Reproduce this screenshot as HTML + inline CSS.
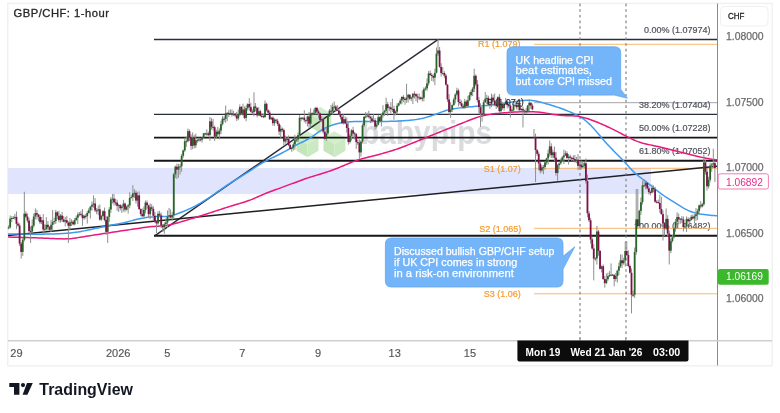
<!DOCTYPE html>
<html><head><meta charset="utf-8">
<style>
html,body{margin:0;padding:0;background:#fff;}
body{width:780px;height:413px;overflow:hidden;position:relative;font-family:"Liberation Sans",Arial,sans-serif;}
svg{position:absolute;left:0;top:0;will-change:transform;}
</style></head><body>
<svg width="780" height="413" viewBox="0 0 780 413" font-family="Liberation Sans, Arial, sans-serif">
<!-- frame -->
<rect x="7.75" y="3.4" width="764.5" height="362.4" fill="#fff" stroke="#f1f1f1" stroke-width="1.5"/>
<!-- blue zone -->
<rect x="8" y="168" width="643" height="26" fill="#e0e5fd"/>
<!-- watermark -->
<g><polygon points="320.3,107.1 331.3,113.6 320.3,120.1 309.3,113.6" fill="#d3eecb"/><polygon points="309.3,113.6 320.3,120.1 320.3,133.1 309.3,126.6" fill="#c4e6ba"/><polygon points="320.3,120.1 331.3,113.6 331.3,126.6 320.3,133.1" fill="#cbe9c2"/><polygon points="307.5,131.3 318.5,137.8 307.5,144.3 296.5,137.8" fill="#d3eecb"/><polygon points="296.5,137.8 307.5,144.3 307.5,157.3 296.5,150.8" fill="#c4e6ba"/><polygon points="307.5,144.3 318.5,137.8 318.5,150.8 307.5,157.3" fill="#cbe9c2"/><polygon points="334.5,131.3 345.5,137.8 334.5,144.3 323.5,137.8" fill="#d3eecb"/><polygon points="323.5,137.8 334.5,144.3 334.5,157.3 323.5,150.8" fill="#c4e6ba"/><polygon points="334.5,144.3 345.5,137.8 345.5,150.8 334.5,157.3" fill="#cbe9c2"/></g>
<text x="361" y="143.5" font-size="34" font-weight="bold" fill="#dadbdf" textLength="131" lengthAdjust="spacingAndGlyphs">babypips</text>
<!-- pivot lines -->
<line x1="534" y1="102.7" x2="717" y2="102.7" stroke="#8a8d96" stroke-width="0.8"/>
<g font-size="9" fill="#f39c30" stroke="#f39c30" stroke-width="0.2">
<text x="478" y="46.6">R1 (1.079)</text>
<text x="483.7" y="171.8">S1 (1.07)</text>
<text x="479.2" y="231.6">S2 (1.065)</text>
<text x="483.7" y="297.2">S3 (1.06)</text>
</g>
<!-- fib -->
<g stroke="#2a2e39" stroke-width="1.4">
<line x1="154" y1="39.45" x2="717" y2="39.45"/>
<line x1="154" y1="114.3" x2="717" y2="114.3" stroke-width="1.2"/>
</g>
<g stroke="#161616" stroke-width="1.9">
<line x1="154" y1="137.6" x2="717" y2="137.6"/>
<line x1="154" y1="160.7" x2="717" y2="160.7"/>
<line x1="154" y1="235.7" x2="717" y2="235.7"/>
</g>
<g font-size="9" fill="#50535c" stroke="#50535c" stroke-width="0.2" text-anchor="end">
<text x="710.5" y="32.8">0.00% (1.07974)</text>
<text x="710.5" y="107.9">38.20% (1.07404)</text>
<text x="710.5" y="131.4">50.00% (1.07228)</text>
<text x="710.5" y="154.3">61.80% (1.07052)</text>
<text x="710.5" y="229.4">100.00% (1.06482)</text>
</g>
<g stroke="#f8b870" stroke-width="1">
<line x1="534" y1="44.3" x2="717" y2="44.3"/>
<line x1="534" y1="168.3" x2="717" y2="168.3"/>
<line x1="534" y1="228.3" x2="717" y2="228.3"/>
<line x1="534" y1="293.8" x2="717" y2="293.8"/>
</g>
<!-- trend lines -->
<line x1="155" y1="235.6" x2="438.2" y2="39.45" stroke="#262a35" stroke-width="1.4"/>
<line x1="8" y1="235.4" x2="717" y2="166.3" stroke="#1e1e24" stroke-width="1.5"/>
<!-- dotted verticals -->
<g stroke="#777" stroke-width="1.1" stroke-dasharray="2.6,3.05">
<line x1="580" y1="3.6" x2="580" y2="340"/>
<line x1="626" y1="3.6" x2="626" y2="340"/>
</g>
<!-- MAs -->
<polyline points="8.0,234.03 10.0,234.03 12.0,234.04 14.0,234.05 16.0,234.07 18.0,234.09 20.0,234.11 22.0,234.12 24.0,234.14 26.0,234.15 28.0,234.17 30.0,234.18 32.0,234.19 34.0,234.19 36.0,234.20 38.0,234.19 40.0,234.18 42.0,234.17 44.0,234.15 46.0,234.12 48.0,234.08 50.0,234.03 52.0,233.98 54.0,233.92 56.0,233.85 58.0,233.77 60.0,233.69 62.0,233.60 64.0,233.49 66.0,233.37 68.0,233.22 70.0,233.05 72.0,232.84 74.0,232.59 76.0,232.30 78.0,231.99 80.0,231.64 82.0,231.27 84.0,230.88 86.0,230.48 88.0,230.07 90.0,229.65 92.0,229.22 94.0,228.79 96.0,228.36 98.0,227.93 100.0,227.49 102.0,227.07 104.0,226.65 106.0,226.23 108.0,225.84 110.0,225.45 112.0,225.07 114.0,224.70 116.0,224.34 118.0,223.96 120.0,223.57 122.0,223.15 124.0,222.70 126.0,222.21 128.0,221.68 130.0,221.14 132.0,220.60 134.0,220.06 136.0,219.56 138.0,219.09 140.0,218.66 142.0,218.27 144.0,217.92 146.0,217.61 148.0,217.33 150.0,217.10 152.0,216.90 154.0,216.74 156.0,216.62 158.0,216.57 160.0,216.57 162.0,216.56 164.0,216.52 166.0,216.40 168.0,216.21 170.0,215.91 172.0,215.48 174.0,214.92 176.0,214.27 178.0,213.56 180.0,212.80 182.0,212.01 184.0,211.20 186.0,210.35 188.0,209.47 190.0,208.56 192.0,207.62 194.0,206.63 196.0,205.60 198.0,204.52 200.0,203.39 202.0,202.21 204.0,200.98 206.0,199.71 208.0,198.39 210.0,197.04 212.0,195.66 214.0,194.26 216.0,192.85 218.0,191.44 220.0,190.03 222.0,188.63 224.0,187.26 226.0,185.90 228.0,184.57 230.0,183.27 232.0,182.00 234.0,180.74 236.0,179.51 238.0,178.29 240.0,177.07 242.0,175.86 244.0,174.65 246.0,173.43 248.0,172.18 250.0,170.89 252.0,169.57 254.0,168.24 256.0,166.92 258.0,165.62 260.0,164.37 262.0,163.16 264.0,162.03 266.0,160.96 268.0,159.93 270.0,158.93 272.0,157.94 274.0,156.96 276.0,155.98 278.0,154.99 280.0,153.99 282.0,152.97 284.0,151.93 286.0,150.86 288.0,149.76 290.0,148.65 292.0,147.52 294.0,146.38 296.0,145.27 298.0,144.21 300.0,143.20 302.0,142.23 304.0,141.27 306.0,140.27 308.0,139.21 310.0,138.05 312.0,136.78 314.0,135.38 316.0,133.92 318.0,132.44 320.0,131.03 322.0,129.73 324.0,128.57 326.0,127.55 328.0,126.66 330.0,125.89 332.0,125.21 334.0,124.59 336.0,124.02 338.0,123.50 340.0,123.05 342.0,122.66 344.0,122.35 346.0,122.10 348.0,121.91 350.0,121.77 352.0,121.67 354.0,121.60 356.0,121.54 358.0,121.51 360.0,121.48 362.0,121.47 364.0,121.46 366.0,121.46 368.0,121.47 370.0,121.48 372.0,121.49 374.0,121.50 376.0,121.50 378.0,121.50 380.0,121.49 382.0,121.47 384.0,121.45 386.0,121.43 388.0,121.40 390.0,121.36 392.0,121.31 394.0,121.24 396.0,121.17 398.0,121.08 400.0,120.98 402.0,120.87 404.0,120.74 406.0,120.61 408.0,120.45 410.0,120.28 412.0,120.08 414.0,119.85 416.0,119.57 418.0,119.24 420.0,118.86 422.0,118.43 424.0,117.94 426.0,117.40 428.0,116.82 430.0,116.20 432.0,115.56 434.0,114.90 436.0,114.19 438.0,113.43 440.0,112.65 442.0,111.89 444.0,111.17 446.0,110.51 448.0,109.90 450.0,109.39 452.0,108.98 454.0,108.66 456.0,108.38 458.0,108.12 460.0,107.88 462.0,107.65 464.0,107.43 466.0,107.22 468.0,107.02 470.0,106.84 472.0,106.66 474.0,106.49 476.0,106.33 478.0,106.18 480.0,106.03 482.0,105.88 484.0,105.72 486.0,105.56 488.0,105.38 490.0,105.19 492.0,104.98 494.0,104.75 496.0,104.51 498.0,104.24 500.0,103.96 502.0,103.67 504.0,103.36 506.0,103.04 508.0,102.72 510.0,102.39 512.0,102.06 514.0,101.74 516.0,101.43 518.0,101.12 520.0,100.84 522.0,100.58 524.0,100.38 526.0,100.25 528.0,100.21 530.0,100.27 532.0,100.44 534.0,100.72 536.0,101.09 538.0,101.53 540.0,102.02 542.0,102.55 544.0,103.10 546.0,103.66 548.0,104.23 550.0,104.81 552.0,105.42 554.0,106.04 556.0,106.69 558.0,107.36 560.0,108.06 562.0,108.78 564.0,109.52 566.0,110.29 568.0,111.09 570.0,111.90 572.0,112.76 574.0,113.65 576.0,114.60 578.0,115.62 580.0,116.75 582.0,118.01 584.0,119.41 586.0,120.97 588.0,122.70 590.0,124.60 592.0,126.66 594.0,128.85 596.0,131.13 598.0,133.45 600.0,135.80 602.0,138.14 604.0,140.45 606.0,142.70 608.0,144.90 610.0,147.05 612.0,149.14 614.0,151.20 616.0,153.22 618.0,155.23 620.0,157.26 622.0,159.32 624.0,161.43 626.0,163.61 628.0,165.82 630.0,168.03 632.0,170.14 634.0,172.10 636.0,173.93 638.0,175.63 640.0,177.22 642.0,178.73 644.0,180.21 646.0,181.72 648.0,183.29 650.0,184.90 652.0,186.53 654.0,188.17 656.0,189.79 658.0,191.38 660.0,192.91 662.0,194.36 664.0,195.75 666.0,197.08 668.0,198.38 670.0,199.64 672.0,200.89 674.0,202.14 676.0,203.41 678.0,204.68 680.0,205.93 682.0,207.14 684.0,208.29 686.0,209.36 688.0,210.33 690.0,211.20 692.0,211.95 694.0,212.59 696.0,213.11 698.0,213.55 700.0,213.92 702.0,214.23 704.0,214.51 706.0,214.77 708.0,215.01 710.0,215.24 712.0,215.44 714.0,215.55 716.0,215.66 717.0,215.76" fill="none" stroke="#3d9bf0" stroke-width="1.5" stroke-linejoin="round"/>
<polyline points="8.0,237.09 10.0,237.12 12.0,237.15 14.0,237.18 16.0,237.24 18.0,237.31 20.0,237.37 22.0,237.43 24.0,237.49 26.0,237.55 28.0,237.61 30.0,237.68 32.0,237.74 34.0,237.80 36.0,237.87 38.0,237.94 40.0,238.01 42.0,238.08 44.0,238.16 46.0,238.24 48.0,238.32 50.0,238.40 52.0,238.49 54.0,238.57 56.0,238.65 58.0,238.73 60.0,238.80 62.0,238.86 64.0,238.88 66.0,238.85 68.0,238.78 70.0,238.65 72.0,238.46 74.0,238.21 76.0,237.93 78.0,237.62 80.0,237.29 82.0,236.96 84.0,236.64 86.0,236.32 88.0,236.00 90.0,235.69 92.0,235.38 94.0,235.08 96.0,234.77 98.0,234.47 100.0,234.16 102.0,233.86 104.0,233.56 106.0,233.25 108.0,232.95 110.0,232.64 112.0,232.33 114.0,232.03 116.0,231.72 118.0,231.41 120.0,231.11 122.0,230.81 124.0,230.51 126.0,230.21 128.0,229.91 130.0,229.62 132.0,229.33 134.0,229.03 136.0,228.74 138.0,228.44 140.0,228.14 142.0,227.84 144.0,227.55 146.0,227.27 148.0,227.02 150.0,226.79 152.0,226.59 154.0,226.42 156.0,226.27 158.0,226.16 160.0,226.05 162.0,225.91 164.0,225.71 166.0,225.46 168.0,225.15 170.0,224.78 172.0,224.32 174.0,223.81 176.0,223.26 178.0,222.70 180.0,222.13 182.0,221.54 184.0,220.95 186.0,220.36 188.0,219.76 190.0,219.15 192.0,218.54 194.0,217.93 196.0,217.32 198.0,216.70 200.0,216.08 202.0,215.45 204.0,214.81 206.0,214.17 208.0,213.53 210.0,212.88 212.0,212.23 214.0,211.57 216.0,210.91 218.0,210.26 220.0,209.60 222.0,208.95 224.0,208.30 226.0,207.66 228.0,207.03 230.0,206.40 232.0,205.79 234.0,205.19 236.0,204.59 238.0,203.99 240.0,203.39 242.0,202.79 244.0,202.16 246.0,201.51 248.0,200.82 250.0,200.09 252.0,199.33 254.0,198.53 256.0,197.68 258.0,196.81 260.0,195.91 262.0,195.01 264.0,194.13 266.0,193.29 268.0,192.49 270.0,191.72 272.0,190.98 274.0,190.27 276.0,189.57 278.0,188.87 280.0,188.15 282.0,187.41 284.0,186.66 286.0,185.91 288.0,185.17 290.0,184.42 292.0,183.67 294.0,182.93 296.0,182.19 298.0,181.44 300.0,180.71 302.0,179.98 304.0,179.27 306.0,178.58 308.0,177.90 310.0,177.24 312.0,176.61 314.0,175.99 316.0,175.38 318.0,174.77 320.0,174.17 322.0,173.56 324.0,172.94 326.0,172.31 328.0,171.66 330.0,170.98 332.0,170.28 334.0,169.54 336.0,168.78 338.0,167.98 340.0,167.16 342.0,166.31 344.0,165.46 346.0,164.61 348.0,163.76 350.0,162.94 352.0,162.14 354.0,161.38 356.0,160.66 358.0,159.98 360.0,159.35 362.0,158.76 364.0,158.21 366.0,157.68 368.0,157.18 370.0,156.69 372.0,156.20 374.0,155.71 376.0,155.21 378.0,154.69 380.0,154.16 382.0,153.62 384.0,153.06 386.0,152.49 388.0,151.90 390.0,151.29 392.0,150.67 394.0,150.02 396.0,149.36 398.0,148.67 400.0,147.95 402.0,147.22 404.0,146.46 406.0,145.69 408.0,144.91 410.0,144.11 412.0,143.31 414.0,142.50 416.0,141.69 418.0,140.87 420.0,140.06 422.0,139.24 424.0,138.43 426.0,137.62 428.0,136.81 430.0,136.00 432.0,135.20 434.0,134.39 436.0,133.59 438.0,132.78 440.0,131.98 442.0,131.17 444.0,130.37 446.0,129.57 448.0,128.77 450.0,127.97 452.0,127.17 454.0,126.38 456.0,125.59 458.0,124.79 460.0,123.99 462.0,123.19 464.0,122.39 466.0,121.58 468.0,120.78 470.0,120.00 472.0,119.23 474.0,118.49 476.0,117.78 478.0,117.13 480.0,116.52 482.0,115.97 484.0,115.49 486.0,115.06 488.0,114.70 490.0,114.38 492.0,114.10 494.0,113.85 496.0,113.62 498.0,113.41 500.0,113.20 502.0,113.01 504.0,112.82 506.0,112.64 508.0,112.47 510.0,112.33 512.0,112.19 514.0,112.08 516.0,111.98 518.0,111.90 520.0,111.83 522.0,111.78 524.0,111.75 526.0,111.73 528.0,111.73 530.0,111.76 532.0,111.80 534.0,111.87 536.0,111.98 538.0,112.12 540.0,112.31 542.0,112.54 544.0,112.81 546.0,113.12 548.0,113.46 550.0,113.82 552.0,114.18 554.0,114.53 556.0,114.85 558.0,115.12 560.0,115.34 562.0,115.51 564.0,115.62 566.0,115.69 568.0,115.73 570.0,115.77 572.0,115.84 574.0,115.94 576.0,116.12 578.0,116.37 580.0,116.71 582.0,117.13 584.0,117.63 586.0,118.20 588.0,118.83 590.0,119.51 592.0,120.23 594.0,120.98 596.0,121.76 598.0,122.57 600.0,123.40 602.0,124.26 604.0,125.14 606.0,126.04 608.0,126.97 610.0,127.93 612.0,128.91 614.0,129.91 616.0,130.92 618.0,131.93 620.0,132.95 622.0,133.99 624.0,135.04 626.0,136.09 628.0,137.14 630.0,138.16 632.0,139.13 634.0,140.05 636.0,140.89 638.0,141.65 640.0,142.32 642.0,142.92 644.0,143.47 646.0,143.97 648.0,144.43 650.0,144.88 652.0,145.31 654.0,145.73 656.0,146.15 658.0,146.59 660.0,147.04 662.0,147.50 664.0,147.98 666.0,148.47 668.0,148.97 670.0,149.47 672.0,149.98 674.0,150.48 676.0,150.99 678.0,151.50 680.0,152.00 682.0,152.51 684.0,153.02 686.0,153.53 688.0,154.04 690.0,154.55 692.0,155.05 694.0,155.55 696.0,156.03 698.0,156.50 700.0,156.96 702.0,157.39 704.0,157.81 706.0,158.22 708.0,158.61 710.0,159.00 712.0,159.35 714.0,159.53 716.0,159.71 717.0,159.88" fill="none" stroke="#e8197a" stroke-width="1.5" stroke-linejoin="round"/>
<!-- candles -->
<line x1="8.60" y1="225.3" x2="8.60" y2="229.3" stroke="#8f8f8f" stroke-width="1"/>
<line x1="10.17" y1="215.4" x2="10.17" y2="228.5" stroke="#8f8f8f" stroke-width="1"/>
<line x1="11.75" y1="216.2" x2="11.75" y2="222.1" stroke="#8f8f8f" stroke-width="1"/>
<line x1="13.32" y1="216.1" x2="13.32" y2="219.1" stroke="#8f8f8f" stroke-width="1"/>
<line x1="14.89" y1="213.9" x2="14.89" y2="219.9" stroke="#8f8f8f" stroke-width="1"/>
<line x1="16.46" y1="211.5" x2="16.46" y2="229.2" stroke="#8f8f8f" stroke-width="1"/>
<line x1="18.04" y1="221.8" x2="18.04" y2="226.9" stroke="#8f8f8f" stroke-width="1"/>
<line x1="19.61" y1="223.4" x2="19.61" y2="246.0" stroke="#8f8f8f" stroke-width="1"/>
<line x1="21.18" y1="241.9" x2="21.18" y2="258.6" stroke="#8f8f8f" stroke-width="1"/>
<line x1="22.76" y1="237.7" x2="22.76" y2="255.9" stroke="#8f8f8f" stroke-width="1"/>
<line x1="24.33" y1="191.8" x2="24.33" y2="241.5" stroke="#8f8f8f" stroke-width="1"/>
<line x1="25.90" y1="211.3" x2="25.90" y2="217.9" stroke="#8f8f8f" stroke-width="1"/>
<line x1="27.48" y1="213.3" x2="27.48" y2="222.7" stroke="#8f8f8f" stroke-width="1"/>
<line x1="29.05" y1="217.7" x2="29.05" y2="232.4" stroke="#8f8f8f" stroke-width="1"/>
<line x1="30.62" y1="226.4" x2="30.62" y2="243.0" stroke="#8f8f8f" stroke-width="1"/>
<line x1="32.20" y1="219.4" x2="32.20" y2="233.0" stroke="#8f8f8f" stroke-width="1"/>
<line x1="33.77" y1="213.6" x2="33.77" y2="227.7" stroke="#8f8f8f" stroke-width="1"/>
<line x1="35.34" y1="208.4" x2="35.34" y2="219.4" stroke="#8f8f8f" stroke-width="1"/>
<line x1="36.91" y1="209.9" x2="36.91" y2="219.4" stroke="#8f8f8f" stroke-width="1"/>
<line x1="38.49" y1="213.8" x2="38.49" y2="221.2" stroke="#8f8f8f" stroke-width="1"/>
<line x1="40.06" y1="214.6" x2="40.06" y2="224.1" stroke="#8f8f8f" stroke-width="1"/>
<line x1="41.63" y1="217.0" x2="41.63" y2="224.3" stroke="#8f8f8f" stroke-width="1"/>
<line x1="43.21" y1="214.0" x2="43.21" y2="234.2" stroke="#8f8f8f" stroke-width="1"/>
<line x1="44.78" y1="224.3" x2="44.78" y2="231.7" stroke="#8f8f8f" stroke-width="1"/>
<line x1="46.35" y1="217.1" x2="46.35" y2="230.5" stroke="#8f8f8f" stroke-width="1"/>
<line x1="47.93" y1="221.0" x2="47.93" y2="230.5" stroke="#8f8f8f" stroke-width="1"/>
<line x1="49.50" y1="226.1" x2="49.50" y2="230.9" stroke="#8f8f8f" stroke-width="1"/>
<line x1="51.07" y1="219.8" x2="51.07" y2="232.0" stroke="#8f8f8f" stroke-width="1"/>
<line x1="52.64" y1="210.0" x2="52.64" y2="229.8" stroke="#8f8f8f" stroke-width="1"/>
<line x1="54.22" y1="217.8" x2="54.22" y2="224.2" stroke="#8f8f8f" stroke-width="1"/>
<line x1="55.79" y1="209.9" x2="55.79" y2="224.0" stroke="#8f8f8f" stroke-width="1"/>
<line x1="57.36" y1="211.1" x2="57.36" y2="219.3" stroke="#8f8f8f" stroke-width="1"/>
<line x1="58.94" y1="210.7" x2="58.94" y2="222.3" stroke="#8f8f8f" stroke-width="1"/>
<line x1="60.51" y1="214.1" x2="60.51" y2="222.6" stroke="#8f8f8f" stroke-width="1"/>
<line x1="62.08" y1="211.8" x2="62.08" y2="222.0" stroke="#8f8f8f" stroke-width="1"/>
<line x1="63.66" y1="216.0" x2="63.66" y2="222.4" stroke="#8f8f8f" stroke-width="1"/>
<line x1="65.23" y1="217.0" x2="65.23" y2="226.4" stroke="#8f8f8f" stroke-width="1"/>
<line x1="66.80" y1="215.8" x2="66.80" y2="223.6" stroke="#8f8f8f" stroke-width="1"/>
<line x1="68.37" y1="221.2" x2="68.37" y2="243.0" stroke="#8f8f8f" stroke-width="1"/>
<line x1="69.95" y1="218.1" x2="69.95" y2="230.0" stroke="#8f8f8f" stroke-width="1"/>
<line x1="71.52" y1="219.4" x2="71.52" y2="226.0" stroke="#8f8f8f" stroke-width="1"/>
<line x1="73.09" y1="220.2" x2="73.09" y2="225.3" stroke="#8f8f8f" stroke-width="1"/>
<line x1="74.67" y1="217.9" x2="74.67" y2="225.4" stroke="#8f8f8f" stroke-width="1"/>
<line x1="76.24" y1="215.7" x2="76.24" y2="220.7" stroke="#8f8f8f" stroke-width="1"/>
<line x1="77.81" y1="212.4" x2="77.81" y2="224.1" stroke="#8f8f8f" stroke-width="1"/>
<line x1="79.38" y1="212.0" x2="79.38" y2="216.3" stroke="#8f8f8f" stroke-width="1"/>
<line x1="80.96" y1="210.7" x2="80.96" y2="216.3" stroke="#8f8f8f" stroke-width="1"/>
<line x1="82.53" y1="209.0" x2="82.53" y2="225.9" stroke="#8f8f8f" stroke-width="1"/>
<line x1="84.10" y1="214.7" x2="84.10" y2="219.8" stroke="#8f8f8f" stroke-width="1"/>
<line x1="85.68" y1="214.1" x2="85.68" y2="218.7" stroke="#8f8f8f" stroke-width="1"/>
<line x1="87.25" y1="210.9" x2="87.25" y2="223.6" stroke="#8f8f8f" stroke-width="1"/>
<line x1="88.82" y1="208.1" x2="88.82" y2="213.8" stroke="#8f8f8f" stroke-width="1"/>
<line x1="90.40" y1="205.9" x2="90.40" y2="218.5" stroke="#8f8f8f" stroke-width="1"/>
<line x1="91.97" y1="201.3" x2="91.97" y2="210.5" stroke="#8f8f8f" stroke-width="1"/>
<line x1="93.54" y1="195.3" x2="93.54" y2="207.7" stroke="#8f8f8f" stroke-width="1"/>
<line x1="95.11" y1="198.1" x2="95.11" y2="212.0" stroke="#8f8f8f" stroke-width="1"/>
<line x1="96.69" y1="208.0" x2="96.69" y2="214.2" stroke="#8f8f8f" stroke-width="1"/>
<line x1="98.26" y1="205.6" x2="98.26" y2="215.2" stroke="#8f8f8f" stroke-width="1"/>
<line x1="99.83" y1="204.5" x2="99.83" y2="220.6" stroke="#8f8f8f" stroke-width="1"/>
<line x1="101.41" y1="214.9" x2="101.41" y2="220.7" stroke="#8f8f8f" stroke-width="1"/>
<line x1="102.98" y1="210.2" x2="102.98" y2="216.7" stroke="#8f8f8f" stroke-width="1"/>
<line x1="104.55" y1="207.6" x2="104.55" y2="221.4" stroke="#8f8f8f" stroke-width="1"/>
<line x1="106.13" y1="216.2" x2="106.13" y2="235.0" stroke="#8f8f8f" stroke-width="1"/>
<line x1="107.70" y1="215.9" x2="107.70" y2="243.0" stroke="#8f8f8f" stroke-width="1"/>
<line x1="109.27" y1="207.1" x2="109.27" y2="221.8" stroke="#8f8f8f" stroke-width="1"/>
<line x1="110.84" y1="197.1" x2="110.84" y2="212.8" stroke="#8f8f8f" stroke-width="1"/>
<line x1="112.42" y1="194.0" x2="112.42" y2="203.5" stroke="#8f8f8f" stroke-width="1"/>
<line x1="113.99" y1="193.8" x2="113.99" y2="205.5" stroke="#8f8f8f" stroke-width="1"/>
<line x1="115.56" y1="198.5" x2="115.56" y2="205.4" stroke="#8f8f8f" stroke-width="1"/>
<line x1="117.14" y1="199.6" x2="117.14" y2="210.9" stroke="#8f8f8f" stroke-width="1"/>
<line x1="118.71" y1="204.0" x2="118.71" y2="212.0" stroke="#8f8f8f" stroke-width="1"/>
<line x1="120.28" y1="204.2" x2="120.28" y2="210.5" stroke="#8f8f8f" stroke-width="1"/>
<line x1="121.86" y1="205.0" x2="121.86" y2="213.0" stroke="#8f8f8f" stroke-width="1"/>
<line x1="123.43" y1="199.8" x2="123.43" y2="211.5" stroke="#8f8f8f" stroke-width="1"/>
<line x1="125.00" y1="202.5" x2="125.00" y2="212.3" stroke="#8f8f8f" stroke-width="1"/>
<line x1="126.57" y1="205.6" x2="126.57" y2="210.6" stroke="#8f8f8f" stroke-width="1"/>
<line x1="128.15" y1="204.0" x2="128.15" y2="213.6" stroke="#8f8f8f" stroke-width="1"/>
<line x1="129.72" y1="192.2" x2="129.72" y2="208.3" stroke="#8f8f8f" stroke-width="1"/>
<line x1="131.29" y1="194.6" x2="131.29" y2="198.6" stroke="#8f8f8f" stroke-width="1"/>
<line x1="132.87" y1="185.2" x2="132.87" y2="201.2" stroke="#8f8f8f" stroke-width="1"/>
<line x1="134.44" y1="189.3" x2="134.44" y2="198.1" stroke="#8f8f8f" stroke-width="1"/>
<line x1="136.01" y1="190.4" x2="136.01" y2="203.7" stroke="#8f8f8f" stroke-width="1"/>
<line x1="137.59" y1="191.8" x2="137.59" y2="206.7" stroke="#8f8f8f" stroke-width="1"/>
<line x1="139.16" y1="191.4" x2="139.16" y2="209.8" stroke="#8f8f8f" stroke-width="1"/>
<line x1="140.73" y1="208.4" x2="140.73" y2="216.3" stroke="#8f8f8f" stroke-width="1"/>
<line x1="142.30" y1="208.4" x2="142.30" y2="216.9" stroke="#8f8f8f" stroke-width="1"/>
<line x1="143.88" y1="206.5" x2="143.88" y2="217.4" stroke="#8f8f8f" stroke-width="1"/>
<line x1="145.45" y1="200.5" x2="145.45" y2="213.5" stroke="#8f8f8f" stroke-width="1"/>
<line x1="147.02" y1="200.4" x2="147.02" y2="208.7" stroke="#8f8f8f" stroke-width="1"/>
<line x1="148.60" y1="204.6" x2="148.60" y2="217.0" stroke="#8f8f8f" stroke-width="1"/>
<line x1="150.17" y1="203.4" x2="150.17" y2="219.2" stroke="#8f8f8f" stroke-width="1"/>
<line x1="151.74" y1="204.2" x2="151.74" y2="211.1" stroke="#8f8f8f" stroke-width="1"/>
<line x1="153.32" y1="206.1" x2="153.32" y2="220.7" stroke="#8f8f8f" stroke-width="1"/>
<line x1="154.89" y1="211.9" x2="154.89" y2="223.1" stroke="#8f8f8f" stroke-width="1"/>
<line x1="156.46" y1="219.9" x2="156.46" y2="233.0" stroke="#8f8f8f" stroke-width="1"/>
<line x1="158.03" y1="211.2" x2="158.03" y2="224.8" stroke="#8f8f8f" stroke-width="1"/>
<line x1="159.61" y1="210.8" x2="159.61" y2="216.8" stroke="#8f8f8f" stroke-width="1"/>
<line x1="161.18" y1="212.6" x2="161.18" y2="228.2" stroke="#8f8f8f" stroke-width="1"/>
<line x1="162.75" y1="224.0" x2="162.75" y2="232.0" stroke="#8f8f8f" stroke-width="1"/>
<line x1="164.33" y1="222.3" x2="164.33" y2="233.7" stroke="#8f8f8f" stroke-width="1"/>
<line x1="165.90" y1="218.3" x2="165.90" y2="225.6" stroke="#8f8f8f" stroke-width="1"/>
<line x1="167.47" y1="210.5" x2="167.47" y2="228.0" stroke="#8f8f8f" stroke-width="1"/>
<line x1="169.05" y1="207.9" x2="169.05" y2="219.7" stroke="#8f8f8f" stroke-width="1"/>
<line x1="170.62" y1="209.4" x2="170.62" y2="218.4" stroke="#8f8f8f" stroke-width="1"/>
<line x1="172.19" y1="212.0" x2="172.19" y2="220.6" stroke="#8f8f8f" stroke-width="1"/>
<line x1="173.76" y1="172.9" x2="173.76" y2="218.0" stroke="#8f8f8f" stroke-width="1"/>
<line x1="175.34" y1="165.6" x2="175.34" y2="178.0" stroke="#8f8f8f" stroke-width="1"/>
<line x1="176.91" y1="163.6" x2="176.91" y2="179.0" stroke="#8f8f8f" stroke-width="1"/>
<line x1="178.48" y1="163.8" x2="178.48" y2="177.7" stroke="#8f8f8f" stroke-width="1"/>
<line x1="180.06" y1="164.0" x2="180.06" y2="174.6" stroke="#8f8f8f" stroke-width="1"/>
<line x1="181.63" y1="153.9" x2="181.63" y2="171.7" stroke="#8f8f8f" stroke-width="1"/>
<line x1="183.20" y1="149.6" x2="183.20" y2="157.9" stroke="#8f8f8f" stroke-width="1"/>
<line x1="184.78" y1="137.7" x2="184.78" y2="151.9" stroke="#8f8f8f" stroke-width="1"/>
<line x1="186.35" y1="136.7" x2="186.35" y2="146.8" stroke="#8f8f8f" stroke-width="1"/>
<line x1="187.92" y1="128.5" x2="187.92" y2="142.5" stroke="#8f8f8f" stroke-width="1"/>
<line x1="189.50" y1="129.5" x2="189.50" y2="141.1" stroke="#8f8f8f" stroke-width="1"/>
<line x1="191.07" y1="134.3" x2="191.07" y2="149.8" stroke="#8f8f8f" stroke-width="1"/>
<line x1="192.64" y1="132.4" x2="192.64" y2="149.2" stroke="#8f8f8f" stroke-width="1"/>
<line x1="194.21" y1="134.9" x2="194.21" y2="148.4" stroke="#8f8f8f" stroke-width="1"/>
<line x1="195.79" y1="133.6" x2="195.79" y2="148.1" stroke="#8f8f8f" stroke-width="1"/>
<line x1="197.36" y1="138.0" x2="197.36" y2="142.9" stroke="#8f8f8f" stroke-width="1"/>
<line x1="198.93" y1="137.5" x2="198.93" y2="141.7" stroke="#8f8f8f" stroke-width="1"/>
<line x1="200.51" y1="138.2" x2="200.51" y2="141.2" stroke="#8f8f8f" stroke-width="1"/>
<line x1="202.08" y1="137.2" x2="202.08" y2="142.6" stroke="#8f8f8f" stroke-width="1"/>
<line x1="203.65" y1="132.8" x2="203.65" y2="138.8" stroke="#8f8f8f" stroke-width="1"/>
<line x1="205.23" y1="132.8" x2="205.23" y2="135.2" stroke="#8f8f8f" stroke-width="1"/>
<line x1="206.80" y1="129.3" x2="206.80" y2="135.9" stroke="#8f8f8f" stroke-width="1"/>
<line x1="208.37" y1="131.6" x2="208.37" y2="136.2" stroke="#8f8f8f" stroke-width="1"/>
<line x1="209.94" y1="117.0" x2="209.94" y2="140.9" stroke="#8f8f8f" stroke-width="1"/>
<line x1="211.52" y1="118.2" x2="211.52" y2="129.6" stroke="#8f8f8f" stroke-width="1"/>
<line x1="213.09" y1="118.9" x2="213.09" y2="130.7" stroke="#8f8f8f" stroke-width="1"/>
<line x1="214.66" y1="125.5" x2="214.66" y2="141.1" stroke="#8f8f8f" stroke-width="1"/>
<line x1="216.24" y1="129.6" x2="216.24" y2="138.7" stroke="#8f8f8f" stroke-width="1"/>
<line x1="217.81" y1="126.9" x2="217.81" y2="136.8" stroke="#8f8f8f" stroke-width="1"/>
<line x1="219.38" y1="128.4" x2="219.38" y2="139.4" stroke="#8f8f8f" stroke-width="1"/>
<line x1="220.96" y1="120.7" x2="220.96" y2="134.3" stroke="#8f8f8f" stroke-width="1"/>
<line x1="222.53" y1="116.0" x2="222.53" y2="125.6" stroke="#8f8f8f" stroke-width="1"/>
<line x1="224.10" y1="116.4" x2="224.10" y2="122.0" stroke="#8f8f8f" stroke-width="1"/>
<line x1="225.67" y1="105.5" x2="225.67" y2="122.9" stroke="#8f8f8f" stroke-width="1"/>
<line x1="227.25" y1="112.0" x2="227.25" y2="121.1" stroke="#8f8f8f" stroke-width="1"/>
<line x1="228.82" y1="109.9" x2="228.82" y2="117.1" stroke="#8f8f8f" stroke-width="1"/>
<line x1="230.39" y1="109.4" x2="230.39" y2="114.9" stroke="#8f8f8f" stroke-width="1"/>
<line x1="231.97" y1="109.5" x2="231.97" y2="116.7" stroke="#8f8f8f" stroke-width="1"/>
<line x1="233.54" y1="110.8" x2="233.54" y2="116.0" stroke="#8f8f8f" stroke-width="1"/>
<line x1="235.11" y1="113.0" x2="235.11" y2="116.8" stroke="#8f8f8f" stroke-width="1"/>
<line x1="236.69" y1="111.9" x2="236.69" y2="120.9" stroke="#8f8f8f" stroke-width="1"/>
<line x1="238.26" y1="109.5" x2="238.26" y2="120.3" stroke="#8f8f8f" stroke-width="1"/>
<line x1="239.83" y1="104.4" x2="239.83" y2="116.4" stroke="#8f8f8f" stroke-width="1"/>
<line x1="241.40" y1="106.1" x2="241.40" y2="115.0" stroke="#8f8f8f" stroke-width="1"/>
<line x1="242.98" y1="103.7" x2="242.98" y2="115.8" stroke="#8f8f8f" stroke-width="1"/>
<line x1="244.55" y1="106.4" x2="244.55" y2="119.1" stroke="#8f8f8f" stroke-width="1"/>
<line x1="246.12" y1="105.3" x2="246.12" y2="121.2" stroke="#8f8f8f" stroke-width="1"/>
<line x1="247.70" y1="103.2" x2="247.70" y2="110.5" stroke="#8f8f8f" stroke-width="1"/>
<line x1="249.27" y1="98.2" x2="249.27" y2="110.7" stroke="#8f8f8f" stroke-width="1"/>
<line x1="250.84" y1="102.6" x2="250.84" y2="112.4" stroke="#8f8f8f" stroke-width="1"/>
<line x1="252.42" y1="109.3" x2="252.42" y2="114.6" stroke="#8f8f8f" stroke-width="1"/>
<line x1="253.99" y1="92.3" x2="253.99" y2="116.3" stroke="#8f8f8f" stroke-width="1"/>
<line x1="255.56" y1="103.0" x2="255.56" y2="111.5" stroke="#8f8f8f" stroke-width="1"/>
<line x1="257.13" y1="107.3" x2="257.13" y2="117.3" stroke="#8f8f8f" stroke-width="1"/>
<line x1="258.71" y1="107.1" x2="258.71" y2="115.9" stroke="#8f8f8f" stroke-width="1"/>
<line x1="260.28" y1="109.7" x2="260.28" y2="116.7" stroke="#8f8f8f" stroke-width="1"/>
<line x1="261.85" y1="113.4" x2="261.85" y2="117.7" stroke="#8f8f8f" stroke-width="1"/>
<line x1="263.43" y1="113.7" x2="263.43" y2="118.2" stroke="#8f8f8f" stroke-width="1"/>
<line x1="265.00" y1="100.4" x2="265.00" y2="117.8" stroke="#8f8f8f" stroke-width="1"/>
<line x1="266.57" y1="102.6" x2="266.57" y2="111.5" stroke="#8f8f8f" stroke-width="1"/>
<line x1="268.15" y1="109.2" x2="268.15" y2="114.1" stroke="#8f8f8f" stroke-width="1"/>
<line x1="269.72" y1="110.3" x2="269.72" y2="119.9" stroke="#8f8f8f" stroke-width="1"/>
<line x1="271.29" y1="116.7" x2="271.29" y2="120.0" stroke="#8f8f8f" stroke-width="1"/>
<line x1="272.86" y1="116.3" x2="272.86" y2="125.8" stroke="#8f8f8f" stroke-width="1"/>
<line x1="274.44" y1="118.1" x2="274.44" y2="125.9" stroke="#8f8f8f" stroke-width="1"/>
<line x1="276.01" y1="118.8" x2="276.01" y2="122.8" stroke="#8f8f8f" stroke-width="1"/>
<line x1="277.58" y1="118.8" x2="277.58" y2="125.9" stroke="#8f8f8f" stroke-width="1"/>
<line x1="279.16" y1="122.7" x2="279.16" y2="135.1" stroke="#8f8f8f" stroke-width="1"/>
<line x1="280.73" y1="125.1" x2="280.73" y2="138.7" stroke="#8f8f8f" stroke-width="1"/>
<line x1="282.30" y1="127.5" x2="282.30" y2="132.3" stroke="#8f8f8f" stroke-width="1"/>
<line x1="283.88" y1="128.6" x2="283.88" y2="145.6" stroke="#8f8f8f" stroke-width="1"/>
<line x1="285.45" y1="135.6" x2="285.45" y2="143.5" stroke="#8f8f8f" stroke-width="1"/>
<line x1="287.02" y1="136.8" x2="287.02" y2="142.5" stroke="#8f8f8f" stroke-width="1"/>
<line x1="288.59" y1="135.4" x2="288.59" y2="146.3" stroke="#8f8f8f" stroke-width="1"/>
<line x1="290.17" y1="143.7" x2="290.17" y2="149.6" stroke="#8f8f8f" stroke-width="1"/>
<line x1="291.74" y1="147.2" x2="291.74" y2="151.8" stroke="#8f8f8f" stroke-width="1"/>
<line x1="293.31" y1="142.2" x2="293.31" y2="150.5" stroke="#8f8f8f" stroke-width="1"/>
<line x1="294.89" y1="134.7" x2="294.89" y2="149.7" stroke="#8f8f8f" stroke-width="1"/>
<line x1="296.46" y1="138.1" x2="296.46" y2="142.0" stroke="#8f8f8f" stroke-width="1"/>
<line x1="298.03" y1="132.5" x2="298.03" y2="141.9" stroke="#8f8f8f" stroke-width="1"/>
<line x1="299.60" y1="115.2" x2="299.60" y2="137.7" stroke="#8f8f8f" stroke-width="1"/>
<line x1="301.18" y1="117.2" x2="301.18" y2="120.9" stroke="#8f8f8f" stroke-width="1"/>
<line x1="302.75" y1="117.0" x2="302.75" y2="119.9" stroke="#8f8f8f" stroke-width="1"/>
<line x1="304.32" y1="110.2" x2="304.32" y2="122.3" stroke="#8f8f8f" stroke-width="1"/>
<line x1="305.90" y1="119.6" x2="305.90" y2="123.7" stroke="#8f8f8f" stroke-width="1"/>
<line x1="307.47" y1="115.7" x2="307.47" y2="126.4" stroke="#8f8f8f" stroke-width="1"/>
<line x1="309.04" y1="112.0" x2="309.04" y2="127.7" stroke="#8f8f8f" stroke-width="1"/>
<line x1="310.62" y1="108.2" x2="310.62" y2="127.6" stroke="#8f8f8f" stroke-width="1"/>
<line x1="312.19" y1="112.5" x2="312.19" y2="115.5" stroke="#8f8f8f" stroke-width="1"/>
<line x1="313.76" y1="109.3" x2="313.76" y2="114.6" stroke="#8f8f8f" stroke-width="1"/>
<line x1="315.33" y1="107.1" x2="315.33" y2="114.4" stroke="#8f8f8f" stroke-width="1"/>
<line x1="316.91" y1="106.7" x2="316.91" y2="114.7" stroke="#8f8f8f" stroke-width="1"/>
<line x1="318.48" y1="109.6" x2="318.48" y2="118.4" stroke="#8f8f8f" stroke-width="1"/>
<line x1="320.05" y1="112.5" x2="320.05" y2="122.1" stroke="#8f8f8f" stroke-width="1"/>
<line x1="321.63" y1="116.0" x2="321.63" y2="121.8" stroke="#8f8f8f" stroke-width="1"/>
<line x1="323.20" y1="117.2" x2="323.20" y2="133.7" stroke="#8f8f8f" stroke-width="1"/>
<line x1="324.77" y1="129.0" x2="324.77" y2="139.5" stroke="#8f8f8f" stroke-width="1"/>
<line x1="326.35" y1="127.6" x2="326.35" y2="140.9" stroke="#8f8f8f" stroke-width="1"/>
<line x1="327.92" y1="115.2" x2="327.92" y2="135.2" stroke="#8f8f8f" stroke-width="1"/>
<line x1="329.49" y1="109.1" x2="329.49" y2="117.0" stroke="#8f8f8f" stroke-width="1"/>
<line x1="331.06" y1="104.8" x2="331.06" y2="114.3" stroke="#8f8f8f" stroke-width="1"/>
<line x1="332.64" y1="103.3" x2="332.64" y2="114.7" stroke="#8f8f8f" stroke-width="1"/>
<line x1="334.21" y1="101.5" x2="334.21" y2="109.2" stroke="#8f8f8f" stroke-width="1"/>
<line x1="335.78" y1="105.0" x2="335.78" y2="111.9" stroke="#8f8f8f" stroke-width="1"/>
<line x1="337.36" y1="105.3" x2="337.36" y2="111.3" stroke="#8f8f8f" stroke-width="1"/>
<line x1="338.93" y1="108.5" x2="338.93" y2="115.1" stroke="#8f8f8f" stroke-width="1"/>
<line x1="340.50" y1="111.2" x2="340.50" y2="119.4" stroke="#8f8f8f" stroke-width="1"/>
<line x1="342.08" y1="114.9" x2="342.08" y2="124.1" stroke="#8f8f8f" stroke-width="1"/>
<line x1="343.65" y1="114.2" x2="343.65" y2="124.6" stroke="#8f8f8f" stroke-width="1"/>
<line x1="345.22" y1="116.6" x2="345.22" y2="124.1" stroke="#8f8f8f" stroke-width="1"/>
<line x1="346.79" y1="117.5" x2="346.79" y2="132.6" stroke="#8f8f8f" stroke-width="1"/>
<line x1="348.37" y1="122.5" x2="348.37" y2="144.7" stroke="#8f8f8f" stroke-width="1"/>
<line x1="349.94" y1="133.9" x2="349.94" y2="143.6" stroke="#8f8f8f" stroke-width="1"/>
<line x1="351.51" y1="129.1" x2="351.51" y2="140.6" stroke="#8f8f8f" stroke-width="1"/>
<line x1="353.09" y1="126.8" x2="353.09" y2="137.9" stroke="#8f8f8f" stroke-width="1"/>
<line x1="354.66" y1="131.9" x2="354.66" y2="139.5" stroke="#8f8f8f" stroke-width="1"/>
<line x1="356.23" y1="132.9" x2="356.23" y2="148.9" stroke="#8f8f8f" stroke-width="1"/>
<line x1="357.81" y1="139.6" x2="357.81" y2="145.0" stroke="#8f8f8f" stroke-width="1"/>
<line x1="359.38" y1="139.4" x2="359.38" y2="158.9" stroke="#8f8f8f" stroke-width="1"/>
<line x1="360.95" y1="140.2" x2="360.95" y2="156.7" stroke="#8f8f8f" stroke-width="1"/>
<line x1="362.52" y1="123.3" x2="362.52" y2="143.4" stroke="#8f8f8f" stroke-width="1"/>
<line x1="364.10" y1="115.9" x2="364.10" y2="127.0" stroke="#8f8f8f" stroke-width="1"/>
<line x1="365.67" y1="112.0" x2="365.67" y2="118.4" stroke="#8f8f8f" stroke-width="1"/>
<line x1="367.24" y1="112.8" x2="367.24" y2="117.3" stroke="#8f8f8f" stroke-width="1"/>
<line x1="368.82" y1="110.7" x2="368.82" y2="118.5" stroke="#8f8f8f" stroke-width="1"/>
<line x1="370.39" y1="115.7" x2="370.39" y2="123.2" stroke="#8f8f8f" stroke-width="1"/>
<line x1="371.96" y1="115.9" x2="371.96" y2="122.6" stroke="#8f8f8f" stroke-width="1"/>
<line x1="373.54" y1="114.1" x2="373.54" y2="121.7" stroke="#8f8f8f" stroke-width="1"/>
<line x1="375.11" y1="118.1" x2="375.11" y2="129.6" stroke="#8f8f8f" stroke-width="1"/>
<line x1="376.68" y1="122.4" x2="376.68" y2="128.5" stroke="#8f8f8f" stroke-width="1"/>
<line x1="378.25" y1="114.7" x2="378.25" y2="125.3" stroke="#8f8f8f" stroke-width="1"/>
<line x1="379.83" y1="116.1" x2="379.83" y2="122.6" stroke="#8f8f8f" stroke-width="1"/>
<line x1="381.40" y1="113.8" x2="381.40" y2="126.4" stroke="#8f8f8f" stroke-width="1"/>
<line x1="382.97" y1="105.2" x2="382.97" y2="117.7" stroke="#8f8f8f" stroke-width="1"/>
<line x1="384.55" y1="109.8" x2="384.55" y2="115.9" stroke="#8f8f8f" stroke-width="1"/>
<line x1="386.12" y1="97.7" x2="386.12" y2="113.2" stroke="#8f8f8f" stroke-width="1"/>
<line x1="387.69" y1="101.9" x2="387.69" y2="116.0" stroke="#8f8f8f" stroke-width="1"/>
<line x1="389.27" y1="106.1" x2="389.27" y2="111.2" stroke="#8f8f8f" stroke-width="1"/>
<line x1="390.84" y1="102.2" x2="390.84" y2="113.2" stroke="#8f8f8f" stroke-width="1"/>
<line x1="392.41" y1="98.7" x2="392.41" y2="112.0" stroke="#8f8f8f" stroke-width="1"/>
<line x1="393.98" y1="105.7" x2="393.98" y2="119.8" stroke="#8f8f8f" stroke-width="1"/>
<line x1="395.56" y1="110.4" x2="395.56" y2="115.2" stroke="#8f8f8f" stroke-width="1"/>
<line x1="397.13" y1="103.3" x2="397.13" y2="114.1" stroke="#8f8f8f" stroke-width="1"/>
<line x1="398.70" y1="102.5" x2="398.70" y2="106.7" stroke="#8f8f8f" stroke-width="1"/>
<line x1="400.28" y1="98.6" x2="400.28" y2="104.3" stroke="#8f8f8f" stroke-width="1"/>
<line x1="401.85" y1="96.0" x2="401.85" y2="104.4" stroke="#8f8f8f" stroke-width="1"/>
<line x1="403.42" y1="95.1" x2="403.42" y2="102.3" stroke="#8f8f8f" stroke-width="1"/>
<line x1="405.00" y1="97.4" x2="405.00" y2="104.7" stroke="#8f8f8f" stroke-width="1"/>
<line x1="406.57" y1="83.7" x2="406.57" y2="102.8" stroke="#8f8f8f" stroke-width="1"/>
<line x1="408.14" y1="93.8" x2="408.14" y2="102.6" stroke="#8f8f8f" stroke-width="1"/>
<line x1="409.71" y1="94.1" x2="409.71" y2="100.1" stroke="#8f8f8f" stroke-width="1"/>
<line x1="411.29" y1="96.6" x2="411.29" y2="101.2" stroke="#8f8f8f" stroke-width="1"/>
<line x1="412.86" y1="93.0" x2="412.86" y2="104.0" stroke="#8f8f8f" stroke-width="1"/>
<line x1="414.43" y1="91.3" x2="414.43" y2="98.6" stroke="#8f8f8f" stroke-width="1"/>
<line x1="416.01" y1="93.3" x2="416.01" y2="101.4" stroke="#8f8f8f" stroke-width="1"/>
<line x1="417.58" y1="93.7" x2="417.58" y2="102.8" stroke="#8f8f8f" stroke-width="1"/>
<line x1="419.15" y1="93.4" x2="419.15" y2="100.1" stroke="#8f8f8f" stroke-width="1"/>
<line x1="420.73" y1="96.6" x2="420.73" y2="99.9" stroke="#8f8f8f" stroke-width="1"/>
<line x1="422.30" y1="90.4" x2="422.30" y2="101.5" stroke="#8f8f8f" stroke-width="1"/>
<line x1="423.87" y1="87.3" x2="423.87" y2="101.3" stroke="#8f8f8f" stroke-width="1"/>
<line x1="425.44" y1="86.2" x2="425.44" y2="90.6" stroke="#8f8f8f" stroke-width="1"/>
<line x1="427.02" y1="78.5" x2="427.02" y2="91.1" stroke="#8f8f8f" stroke-width="1"/>
<line x1="428.59" y1="71.0" x2="428.59" y2="85.6" stroke="#8f8f8f" stroke-width="1"/>
<line x1="430.16" y1="70.5" x2="430.16" y2="75.8" stroke="#8f8f8f" stroke-width="1"/>
<line x1="431.74" y1="72.9" x2="431.74" y2="81.0" stroke="#8f8f8f" stroke-width="1"/>
<line x1="433.31" y1="74.3" x2="433.31" y2="81.7" stroke="#8f8f8f" stroke-width="1"/>
<line x1="434.88" y1="68.6" x2="434.88" y2="85.2" stroke="#8f8f8f" stroke-width="1"/>
<line x1="436.46" y1="47.5" x2="436.46" y2="73.5" stroke="#8f8f8f" stroke-width="1"/>
<line x1="438.03" y1="39.3" x2="438.03" y2="56.1" stroke="#8f8f8f" stroke-width="1"/>
<line x1="439.60" y1="46.9" x2="439.60" y2="67.8" stroke="#8f8f8f" stroke-width="1"/>
<line x1="441.17" y1="63.2" x2="441.17" y2="76.6" stroke="#8f8f8f" stroke-width="1"/>
<line x1="442.75" y1="67.1" x2="442.75" y2="74.4" stroke="#8f8f8f" stroke-width="1"/>
<line x1="444.32" y1="71.2" x2="444.32" y2="78.2" stroke="#8f8f8f" stroke-width="1"/>
<line x1="445.89" y1="73.9" x2="445.89" y2="85.4" stroke="#8f8f8f" stroke-width="1"/>
<line x1="447.47" y1="84.1" x2="447.47" y2="102.1" stroke="#8f8f8f" stroke-width="1"/>
<line x1="449.04" y1="94.0" x2="449.04" y2="114.8" stroke="#8f8f8f" stroke-width="1"/>
<line x1="450.61" y1="102.1" x2="450.61" y2="117.9" stroke="#8f8f8f" stroke-width="1"/>
<line x1="452.19" y1="104.4" x2="452.19" y2="111.8" stroke="#8f8f8f" stroke-width="1"/>
<line x1="453.76" y1="97.6" x2="453.76" y2="105.8" stroke="#8f8f8f" stroke-width="1"/>
<line x1="455.33" y1="93.1" x2="455.33" y2="103.5" stroke="#8f8f8f" stroke-width="1"/>
<line x1="456.90" y1="87.7" x2="456.90" y2="95.7" stroke="#8f8f8f" stroke-width="1"/>
<line x1="458.48" y1="88.7" x2="458.48" y2="106.3" stroke="#8f8f8f" stroke-width="1"/>
<line x1="460.05" y1="99.0" x2="460.05" y2="105.0" stroke="#8f8f8f" stroke-width="1"/>
<line x1="461.62" y1="100.4" x2="461.62" y2="107.1" stroke="#8f8f8f" stroke-width="1"/>
<line x1="463.20" y1="104.4" x2="463.20" y2="108.6" stroke="#8f8f8f" stroke-width="1"/>
<line x1="464.77" y1="98.8" x2="464.77" y2="108.7" stroke="#8f8f8f" stroke-width="1"/>
<line x1="466.34" y1="99.8" x2="466.34" y2="108.0" stroke="#8f8f8f" stroke-width="1"/>
<line x1="467.92" y1="95.9" x2="467.92" y2="107.6" stroke="#8f8f8f" stroke-width="1"/>
<line x1="469.49" y1="92.1" x2="469.49" y2="101.1" stroke="#8f8f8f" stroke-width="1"/>
<line x1="471.06" y1="89.8" x2="471.06" y2="96.5" stroke="#8f8f8f" stroke-width="1"/>
<line x1="472.63" y1="87.1" x2="472.63" y2="96.0" stroke="#8f8f8f" stroke-width="1"/>
<line x1="474.21" y1="68.7" x2="474.21" y2="92.1" stroke="#8f8f8f" stroke-width="1"/>
<line x1="475.78" y1="74.4" x2="475.78" y2="85.9" stroke="#8f8f8f" stroke-width="1"/>
<line x1="477.35" y1="80.0" x2="477.35" y2="102.6" stroke="#8f8f8f" stroke-width="1"/>
<line x1="478.93" y1="97.0" x2="478.93" y2="114.3" stroke="#8f8f8f" stroke-width="1"/>
<line x1="480.50" y1="103.3" x2="480.50" y2="126.9" stroke="#8f8f8f" stroke-width="1"/>
<line x1="482.07" y1="106.7" x2="482.07" y2="121.7" stroke="#8f8f8f" stroke-width="1"/>
<line x1="483.65" y1="100.3" x2="483.65" y2="114.8" stroke="#8f8f8f" stroke-width="1"/>
<line x1="485.22" y1="92.0" x2="485.22" y2="103.1" stroke="#8f8f8f" stroke-width="1"/>
<line x1="486.79" y1="94.9" x2="486.79" y2="104.1" stroke="#8f8f8f" stroke-width="1"/>
<line x1="488.36" y1="95.7" x2="488.36" y2="105.1" stroke="#8f8f8f" stroke-width="1"/>
<line x1="489.94" y1="103.1" x2="489.94" y2="108.9" stroke="#8f8f8f" stroke-width="1"/>
<line x1="491.51" y1="93.7" x2="491.51" y2="107.1" stroke="#8f8f8f" stroke-width="1"/>
<line x1="493.08" y1="94.6" x2="493.08" y2="102.4" stroke="#8f8f8f" stroke-width="1"/>
<line x1="494.66" y1="93.5" x2="494.66" y2="106.3" stroke="#8f8f8f" stroke-width="1"/>
<line x1="496.23" y1="102.2" x2="496.23" y2="109.0" stroke="#8f8f8f" stroke-width="1"/>
<line x1="497.80" y1="96.2" x2="497.80" y2="107.9" stroke="#8f8f8f" stroke-width="1"/>
<line x1="499.38" y1="94.0" x2="499.38" y2="112.7" stroke="#8f8f8f" stroke-width="1"/>
<line x1="500.95" y1="101.6" x2="500.95" y2="113.0" stroke="#8f8f8f" stroke-width="1"/>
<line x1="502.52" y1="101.9" x2="502.52" y2="109.5" stroke="#8f8f8f" stroke-width="1"/>
<line x1="504.09" y1="102.9" x2="504.09" y2="110.6" stroke="#8f8f8f" stroke-width="1"/>
<line x1="505.67" y1="97.9" x2="505.67" y2="105.4" stroke="#8f8f8f" stroke-width="1"/>
<line x1="507.24" y1="100.4" x2="507.24" y2="108.4" stroke="#8f8f8f" stroke-width="1"/>
<line x1="508.81" y1="104.1" x2="508.81" y2="107.7" stroke="#8f8f8f" stroke-width="1"/>
<line x1="510.39" y1="104.1" x2="510.39" y2="117.6" stroke="#8f8f8f" stroke-width="1"/>
<line x1="511.96" y1="108.7" x2="511.96" y2="111.8" stroke="#8f8f8f" stroke-width="1"/>
<line x1="513.53" y1="103.8" x2="513.53" y2="112.0" stroke="#8f8f8f" stroke-width="1"/>
<line x1="515.11" y1="102.2" x2="515.11" y2="107.4" stroke="#8f8f8f" stroke-width="1"/>
<line x1="516.68" y1="101.0" x2="516.68" y2="109.5" stroke="#8f8f8f" stroke-width="1"/>
<line x1="518.25" y1="102.2" x2="518.25" y2="110.6" stroke="#8f8f8f" stroke-width="1"/>
<line x1="519.82" y1="100.2" x2="519.82" y2="111.2" stroke="#8f8f8f" stroke-width="1"/>
<line x1="521.40" y1="108.2" x2="521.40" y2="111.1" stroke="#8f8f8f" stroke-width="1"/>
<line x1="522.97" y1="106.6" x2="522.97" y2="127.4" stroke="#8f8f8f" stroke-width="1"/>
<line x1="524.54" y1="109.7" x2="524.54" y2="113.8" stroke="#8f8f8f" stroke-width="1"/>
<line x1="526.12" y1="108.0" x2="526.12" y2="113.9" stroke="#8f8f8f" stroke-width="1"/>
<line x1="527.69" y1="104.9" x2="527.69" y2="113.0" stroke="#8f8f8f" stroke-width="1"/>
<line x1="529.26" y1="99.5" x2="529.26" y2="111.0" stroke="#8f8f8f" stroke-width="1"/>
<line x1="530.84" y1="102.2" x2="530.84" y2="108.9" stroke="#8f8f8f" stroke-width="1"/>
<line x1="532.41" y1="103.6" x2="532.41" y2="110.3" stroke="#8f8f8f" stroke-width="1"/>
<line x1="533.98" y1="129.0" x2="533.98" y2="138.1" stroke="#8f8f8f" stroke-width="1"/>
<line x1="535.55" y1="133.6" x2="535.55" y2="182.0" stroke="#8f8f8f" stroke-width="1"/>
<line x1="537.13" y1="149.1" x2="537.13" y2="155.8" stroke="#8f8f8f" stroke-width="1"/>
<line x1="538.70" y1="151.6" x2="538.70" y2="170.3" stroke="#8f8f8f" stroke-width="1"/>
<line x1="540.27" y1="161.8" x2="540.27" y2="173.5" stroke="#8f8f8f" stroke-width="1"/>
<line x1="541.85" y1="165.0" x2="541.85" y2="172.4" stroke="#8f8f8f" stroke-width="1"/>
<line x1="543.42" y1="165.0" x2="543.42" y2="174.2" stroke="#8f8f8f" stroke-width="1"/>
<line x1="544.99" y1="161.4" x2="544.99" y2="169.8" stroke="#8f8f8f" stroke-width="1"/>
<line x1="546.57" y1="157.7" x2="546.57" y2="164.9" stroke="#8f8f8f" stroke-width="1"/>
<line x1="548.14" y1="149.6" x2="548.14" y2="164.5" stroke="#8f8f8f" stroke-width="1"/>
<line x1="549.71" y1="140.5" x2="549.71" y2="156.6" stroke="#8f8f8f" stroke-width="1"/>
<line x1="551.28" y1="143.3" x2="551.28" y2="158.0" stroke="#8f8f8f" stroke-width="1"/>
<line x1="552.86" y1="149.7" x2="552.86" y2="158.2" stroke="#8f8f8f" stroke-width="1"/>
<line x1="554.43" y1="146.6" x2="554.43" y2="161.1" stroke="#8f8f8f" stroke-width="1"/>
<line x1="556.00" y1="151.8" x2="556.00" y2="175.6" stroke="#8f8f8f" stroke-width="1"/>
<line x1="557.58" y1="164.0" x2="557.58" y2="180.8" stroke="#8f8f8f" stroke-width="1"/>
<line x1="559.15" y1="162.6" x2="559.15" y2="168.8" stroke="#8f8f8f" stroke-width="1"/>
<line x1="560.72" y1="158.4" x2="560.72" y2="164.7" stroke="#8f8f8f" stroke-width="1"/>
<line x1="562.30" y1="155.9" x2="562.30" y2="162.1" stroke="#8f8f8f" stroke-width="1"/>
<line x1="563.87" y1="149.6" x2="563.87" y2="164.1" stroke="#8f8f8f" stroke-width="1"/>
<line x1="565.44" y1="150.7" x2="565.44" y2="156.1" stroke="#8f8f8f" stroke-width="1"/>
<line x1="567.01" y1="151.3" x2="567.01" y2="158.9" stroke="#8f8f8f" stroke-width="1"/>
<line x1="568.59" y1="154.0" x2="568.59" y2="164.5" stroke="#8f8f8f" stroke-width="1"/>
<line x1="570.16" y1="154.7" x2="570.16" y2="159.9" stroke="#8f8f8f" stroke-width="1"/>
<line x1="571.73" y1="156.8" x2="571.73" y2="161.1" stroke="#8f8f8f" stroke-width="1"/>
<line x1="573.31" y1="155.2" x2="573.31" y2="161.4" stroke="#8f8f8f" stroke-width="1"/>
<line x1="574.88" y1="154.9" x2="574.88" y2="162.7" stroke="#8f8f8f" stroke-width="1"/>
<line x1="576.45" y1="156.9" x2="576.45" y2="163.3" stroke="#8f8f8f" stroke-width="1"/>
<line x1="578.03" y1="154.2" x2="578.03" y2="170.0" stroke="#8f8f8f" stroke-width="1"/>
<line x1="579.60" y1="160.7" x2="579.60" y2="168.6" stroke="#8f8f8f" stroke-width="1"/>
<line x1="581.17" y1="160.4" x2="581.17" y2="169.6" stroke="#8f8f8f" stroke-width="1"/>
<line x1="582.74" y1="161.2" x2="582.74" y2="168.1" stroke="#8f8f8f" stroke-width="1"/>
<line x1="584.32" y1="161.7" x2="584.32" y2="168.3" stroke="#8f8f8f" stroke-width="1"/>
<line x1="585.89" y1="158.5" x2="585.89" y2="183.5" stroke="#8f8f8f" stroke-width="1"/>
<line x1="587.46" y1="174.5" x2="587.46" y2="217.3" stroke="#8f8f8f" stroke-width="1"/>
<line x1="589.04" y1="211.1" x2="589.04" y2="222.0" stroke="#8f8f8f" stroke-width="1"/>
<line x1="590.61" y1="217.9" x2="590.61" y2="243.6" stroke="#8f8f8f" stroke-width="1"/>
<line x1="592.18" y1="237.4" x2="592.18" y2="249.7" stroke="#8f8f8f" stroke-width="1"/>
<line x1="593.76" y1="244.2" x2="593.76" y2="280.4" stroke="#8f8f8f" stroke-width="1"/>
<line x1="595.33" y1="257.2" x2="595.33" y2="260.8" stroke="#8f8f8f" stroke-width="1"/>
<line x1="596.90" y1="225.9" x2="596.90" y2="264.6" stroke="#8f8f8f" stroke-width="1"/>
<line x1="598.47" y1="230.0" x2="598.47" y2="255.8" stroke="#8f8f8f" stroke-width="1"/>
<line x1="600.05" y1="250.1" x2="600.05" y2="269.5" stroke="#8f8f8f" stroke-width="1"/>
<line x1="601.62" y1="265.5" x2="601.62" y2="272.4" stroke="#8f8f8f" stroke-width="1"/>
<line x1="603.19" y1="264.4" x2="603.19" y2="279.8" stroke="#8f8f8f" stroke-width="1"/>
<line x1="604.77" y1="276.1" x2="604.77" y2="287.7" stroke="#8f8f8f" stroke-width="1"/>
<line x1="606.34" y1="273.5" x2="606.34" y2="284.2" stroke="#8f8f8f" stroke-width="1"/>
<line x1="607.91" y1="272.7" x2="607.91" y2="280.8" stroke="#8f8f8f" stroke-width="1"/>
<line x1="609.49" y1="271.2" x2="609.49" y2="277.1" stroke="#8f8f8f" stroke-width="1"/>
<line x1="611.06" y1="263.4" x2="611.06" y2="276.2" stroke="#8f8f8f" stroke-width="1"/>
<line x1="612.63" y1="273.8" x2="612.63" y2="275.7" stroke="#8f8f8f" stroke-width="1"/>
<line x1="614.20" y1="274.1" x2="614.20" y2="286.3" stroke="#8f8f8f" stroke-width="1"/>
<line x1="615.78" y1="272.9" x2="615.78" y2="281.4" stroke="#8f8f8f" stroke-width="1"/>
<line x1="617.35" y1="269.6" x2="617.35" y2="282.7" stroke="#8f8f8f" stroke-width="1"/>
<line x1="618.92" y1="262.6" x2="618.92" y2="275.2" stroke="#8f8f8f" stroke-width="1"/>
<line x1="620.50" y1="254.4" x2="620.50" y2="267.9" stroke="#8f8f8f" stroke-width="1"/>
<line x1="622.07" y1="254.5" x2="622.07" y2="268.0" stroke="#8f8f8f" stroke-width="1"/>
<line x1="623.64" y1="257.8" x2="623.64" y2="264.8" stroke="#8f8f8f" stroke-width="1"/>
<line x1="625.22" y1="241.6" x2="625.22" y2="266.6" stroke="#8f8f8f" stroke-width="1"/>
<line x1="626.79" y1="241.6" x2="626.79" y2="256.1" stroke="#8f8f8f" stroke-width="1"/>
<line x1="628.36" y1="250.4" x2="628.36" y2="267.5" stroke="#8f8f8f" stroke-width="1"/>
<line x1="629.93" y1="264.6" x2="629.93" y2="273.5" stroke="#8f8f8f" stroke-width="1"/>
<line x1="631.51" y1="268.5" x2="631.51" y2="313.4" stroke="#8f8f8f" stroke-width="1"/>
<line x1="633.08" y1="290.6" x2="633.08" y2="296.9" stroke="#8f8f8f" stroke-width="1"/>
<line x1="634.65" y1="247.5" x2="634.65" y2="297.9" stroke="#8f8f8f" stroke-width="1"/>
<line x1="636.23" y1="189.0" x2="636.23" y2="254.9" stroke="#8f8f8f" stroke-width="1"/>
<line x1="637.80" y1="189.0" x2="637.80" y2="228.2" stroke="#8f8f8f" stroke-width="1"/>
<line x1="639.37" y1="209.7" x2="639.37" y2="227.2" stroke="#8f8f8f" stroke-width="1"/>
<line x1="640.95" y1="197.4" x2="640.95" y2="214.9" stroke="#8f8f8f" stroke-width="1"/>
<line x1="642.52" y1="180.6" x2="642.52" y2="204.5" stroke="#8f8f8f" stroke-width="1"/>
<line x1="644.09" y1="180.5" x2="644.09" y2="186.6" stroke="#8f8f8f" stroke-width="1"/>
<line x1="645.66" y1="181.0" x2="645.66" y2="189.2" stroke="#8f8f8f" stroke-width="1"/>
<line x1="647.24" y1="182.0" x2="647.24" y2="189.8" stroke="#8f8f8f" stroke-width="1"/>
<line x1="648.81" y1="186.0" x2="648.81" y2="194.4" stroke="#8f8f8f" stroke-width="1"/>
<line x1="650.38" y1="190.7" x2="650.38" y2="195.4" stroke="#8f8f8f" stroke-width="1"/>
<line x1="651.96" y1="184.5" x2="651.96" y2="193.7" stroke="#8f8f8f" stroke-width="1"/>
<line x1="653.53" y1="185.5" x2="653.53" y2="192.4" stroke="#8f8f8f" stroke-width="1"/>
<line x1="655.10" y1="186.8" x2="655.10" y2="202.7" stroke="#8f8f8f" stroke-width="1"/>
<line x1="656.68" y1="200.1" x2="656.68" y2="203.4" stroke="#8f8f8f" stroke-width="1"/>
<line x1="658.25" y1="199.6" x2="658.25" y2="203.6" stroke="#8f8f8f" stroke-width="1"/>
<line x1="659.82" y1="194.7" x2="659.82" y2="212.9" stroke="#8f8f8f" stroke-width="1"/>
<line x1="661.39" y1="196.8" x2="661.39" y2="214.9" stroke="#8f8f8f" stroke-width="1"/>
<line x1="662.97" y1="210.5" x2="662.97" y2="240.5" stroke="#8f8f8f" stroke-width="1"/>
<line x1="664.54" y1="222.1" x2="664.54" y2="235.8" stroke="#8f8f8f" stroke-width="1"/>
<line x1="666.11" y1="208.4" x2="666.11" y2="230.1" stroke="#8f8f8f" stroke-width="1"/>
<line x1="667.69" y1="215.2" x2="667.69" y2="236.7" stroke="#8f8f8f" stroke-width="1"/>
<line x1="669.26" y1="230.5" x2="669.26" y2="264.5" stroke="#8f8f8f" stroke-width="1"/>
<line x1="670.83" y1="238.6" x2="670.83" y2="253.2" stroke="#8f8f8f" stroke-width="1"/>
<line x1="672.41" y1="235.1" x2="672.41" y2="242.5" stroke="#8f8f8f" stroke-width="1"/>
<line x1="673.98" y1="227.3" x2="673.98" y2="238.4" stroke="#8f8f8f" stroke-width="1"/>
<line x1="675.55" y1="219.0" x2="675.55" y2="231.7" stroke="#8f8f8f" stroke-width="1"/>
<line x1="677.12" y1="212.3" x2="677.12" y2="226.3" stroke="#8f8f8f" stroke-width="1"/>
<line x1="678.70" y1="213.5" x2="678.70" y2="224.5" stroke="#8f8f8f" stroke-width="1"/>
<line x1="680.27" y1="218.1" x2="680.27" y2="223.9" stroke="#8f8f8f" stroke-width="1"/>
<line x1="681.84" y1="216.1" x2="681.84" y2="223.1" stroke="#8f8f8f" stroke-width="1"/>
<line x1="683.42" y1="216.4" x2="683.42" y2="231.5" stroke="#8f8f8f" stroke-width="1"/>
<line x1="684.99" y1="223.2" x2="684.99" y2="228.1" stroke="#8f8f8f" stroke-width="1"/>
<line x1="686.56" y1="216.4" x2="686.56" y2="232.0" stroke="#8f8f8f" stroke-width="1"/>
<line x1="688.14" y1="217.2" x2="688.14" y2="222.7" stroke="#8f8f8f" stroke-width="1"/>
<line x1="689.71" y1="217.8" x2="689.71" y2="227.0" stroke="#8f8f8f" stroke-width="1"/>
<line x1="691.28" y1="214.8" x2="691.28" y2="220.6" stroke="#8f8f8f" stroke-width="1"/>
<line x1="692.85" y1="214.5" x2="692.85" y2="219.3" stroke="#8f8f8f" stroke-width="1"/>
<line x1="694.43" y1="213.9" x2="694.43" y2="223.5" stroke="#8f8f8f" stroke-width="1"/>
<line x1="696.00" y1="208.0" x2="696.00" y2="221.0" stroke="#8f8f8f" stroke-width="1"/>
<line x1="697.57" y1="208.9" x2="697.57" y2="219.9" stroke="#8f8f8f" stroke-width="1"/>
<line x1="699.15" y1="204.5" x2="699.15" y2="214.7" stroke="#8f8f8f" stroke-width="1"/>
<line x1="700.72" y1="201.1" x2="700.72" y2="208.5" stroke="#8f8f8f" stroke-width="1"/>
<line x1="702.29" y1="203.0" x2="702.29" y2="207.5" stroke="#8f8f8f" stroke-width="1"/>
<line x1="703.87" y1="154.6" x2="703.87" y2="205.9" stroke="#8f8f8f" stroke-width="1"/>
<line x1="705.44" y1="159.7" x2="705.44" y2="174.6" stroke="#8f8f8f" stroke-width="1"/>
<line x1="707.01" y1="168.1" x2="707.01" y2="190.7" stroke="#8f8f8f" stroke-width="1"/>
<line x1="708.58" y1="176.7" x2="708.58" y2="188.5" stroke="#8f8f8f" stroke-width="1"/>
<line x1="710.16" y1="162.8" x2="710.16" y2="182.1" stroke="#8f8f8f" stroke-width="1"/>
<line x1="711.73" y1="162.9" x2="711.73" y2="171.8" stroke="#8f8f8f" stroke-width="1"/>
<line x1="713.30" y1="148.7" x2="713.30" y2="167.6" stroke="#8f8f8f" stroke-width="1"/>
<line x1="714.88" y1="160.6" x2="714.88" y2="182.0" stroke="#8f8f8f" stroke-width="1"/>
<rect x="7.70" y="227.3" width="1.8" height="1.0" fill="#276527"/>
<rect x="9.27" y="218.6" width="1.8" height="8.8" fill="#276527"/>
<rect x="10.85" y="218.0" width="1.8" height="1.0" fill="#276527"/>
<rect x="12.42" y="217.8" width="1.8" height="1.0" fill="#276527"/>
<rect x="13.99" y="216.9" width="1.8" height="1.0" fill="#276527"/>
<rect x="15.56" y="216.9" width="1.8" height="6.9" fill="#7f1049"/>
<rect x="17.14" y="223.7" width="1.8" height="1.8" fill="#7f1049"/>
<rect x="18.71" y="225.5" width="1.8" height="18.1" fill="#7f1049"/>
<rect x="20.28" y="243.6" width="1.8" height="8.3" fill="#7f1049"/>
<rect x="21.86" y="239.9" width="1.8" height="12.0" fill="#276527"/>
<rect x="23.43" y="213.7" width="1.8" height="26.2" fill="#276527"/>
<rect x="25.00" y="213.7" width="1.8" height="3.0" fill="#7f1049"/>
<rect x="26.58" y="216.6" width="1.8" height="4.0" fill="#7f1049"/>
<rect x="28.15" y="220.6" width="1.8" height="10.5" fill="#7f1049"/>
<rect x="29.72" y="231.1" width="1.8" height="1.0" fill="#7f1049"/>
<rect x="31.30" y="225.7" width="1.8" height="5.8" fill="#276527"/>
<rect x="32.87" y="216.5" width="1.8" height="9.2" fill="#276527"/>
<rect x="34.44" y="213.1" width="1.8" height="3.4" fill="#276527"/>
<rect x="36.01" y="213.1" width="1.8" height="1.6" fill="#7f1049"/>
<rect x="37.59" y="214.7" width="1.8" height="2.2" fill="#7f1049"/>
<rect x="39.16" y="216.9" width="1.8" height="5.3" fill="#7f1049"/>
<rect x="40.73" y="220.3" width="1.8" height="1.9" fill="#276527"/>
<rect x="42.31" y="220.3" width="1.8" height="9.2" fill="#7f1049"/>
<rect x="43.88" y="228.9" width="1.8" height="1.0" fill="#276527"/>
<rect x="45.45" y="224.8" width="1.8" height="4.2" fill="#276527"/>
<rect x="47.03" y="224.8" width="1.8" height="2.4" fill="#7f1049"/>
<rect x="48.60" y="227.2" width="1.8" height="2.5" fill="#7f1049"/>
<rect x="50.17" y="224.8" width="1.8" height="4.8" fill="#276527"/>
<rect x="51.74" y="222.1" width="1.8" height="2.8" fill="#276527"/>
<rect x="53.32" y="221.0" width="1.8" height="1.1" fill="#276527"/>
<rect x="54.89" y="212.3" width="1.8" height="8.8" fill="#276527"/>
<rect x="56.46" y="212.3" width="1.8" height="3.5" fill="#7f1049"/>
<rect x="58.04" y="215.8" width="1.8" height="4.3" fill="#7f1049"/>
<rect x="59.61" y="215.6" width="1.8" height="4.5" fill="#276527"/>
<rect x="61.18" y="215.6" width="1.8" height="3.9" fill="#7f1049"/>
<rect x="62.76" y="219.5" width="1.8" height="2.2" fill="#7f1049"/>
<rect x="64.33" y="220.2" width="1.8" height="1.4" fill="#276527"/>
<rect x="65.90" y="220.2" width="1.8" height="2.4" fill="#7f1049"/>
<rect x="67.47" y="222.6" width="1.8" height="3.2" fill="#7f1049"/>
<rect x="69.05" y="222.3" width="1.8" height="3.6" fill="#276527"/>
<rect x="70.62" y="221.8" width="1.8" height="1.0" fill="#276527"/>
<rect x="72.19" y="221.8" width="1.8" height="2.5" fill="#7f1049"/>
<rect x="73.77" y="220.1" width="1.8" height="4.2" fill="#276527"/>
<rect x="75.34" y="217.9" width="1.8" height="2.3" fill="#276527"/>
<rect x="76.91" y="214.6" width="1.8" height="3.2" fill="#276527"/>
<rect x="78.48" y="213.8" width="1.8" height="1.0" fill="#276527"/>
<rect x="80.06" y="213.8" width="1.8" height="1.0" fill="#7f1049"/>
<rect x="81.63" y="214.8" width="1.8" height="3.4" fill="#7f1049"/>
<rect x="83.20" y="215.9" width="1.8" height="2.2" fill="#276527"/>
<rect x="84.78" y="215.9" width="1.8" height="1.0" fill="#7f1049"/>
<rect x="86.35" y="212.9" width="1.8" height="3.3" fill="#276527"/>
<rect x="87.92" y="210.3" width="1.8" height="2.6" fill="#276527"/>
<rect x="89.50" y="206.7" width="1.8" height="3.6" fill="#276527"/>
<rect x="91.07" y="204.7" width="1.8" height="2.0" fill="#276527"/>
<rect x="92.64" y="203.5" width="1.8" height="1.2" fill="#276527"/>
<rect x="94.21" y="203.5" width="1.8" height="6.9" fill="#7f1049"/>
<rect x="95.79" y="210.4" width="1.8" height="1.0" fill="#7f1049"/>
<rect x="97.36" y="209.3" width="1.8" height="1.3" fill="#276527"/>
<rect x="98.93" y="209.3" width="1.8" height="10.3" fill="#7f1049"/>
<rect x="100.51" y="215.9" width="1.8" height="3.6" fill="#276527"/>
<rect x="102.08" y="211.2" width="1.8" height="4.7" fill="#276527"/>
<rect x="103.65" y="211.2" width="1.8" height="8.8" fill="#7f1049"/>
<rect x="105.23" y="220.0" width="1.8" height="11.9" fill="#7f1049"/>
<rect x="106.80" y="216.9" width="1.8" height="15.0" fill="#276527"/>
<rect x="108.37" y="209.5" width="1.8" height="7.4" fill="#276527"/>
<rect x="109.94" y="199.4" width="1.8" height="10.1" fill="#276527"/>
<rect x="111.52" y="198.7" width="1.8" height="1.0" fill="#276527"/>
<rect x="113.09" y="198.7" width="1.8" height="3.6" fill="#7f1049"/>
<rect x="114.66" y="202.3" width="1.8" height="1.0" fill="#7f1049"/>
<rect x="116.24" y="202.6" width="1.8" height="3.2" fill="#7f1049"/>
<rect x="117.81" y="205.1" width="1.8" height="1.0" fill="#276527"/>
<rect x="119.38" y="205.1" width="1.8" height="3.1" fill="#7f1049"/>
<rect x="120.96" y="206.7" width="1.8" height="1.5" fill="#276527"/>
<rect x="122.53" y="203.6" width="1.8" height="3.1" fill="#276527"/>
<rect x="124.10" y="203.6" width="1.8" height="6.0" fill="#7f1049"/>
<rect x="125.67" y="206.6" width="1.8" height="3.1" fill="#276527"/>
<rect x="127.25" y="205.4" width="1.8" height="1.2" fill="#276527"/>
<rect x="128.82" y="198.0" width="1.8" height="7.4" fill="#276527"/>
<rect x="130.39" y="196.9" width="1.8" height="1.1" fill="#276527"/>
<rect x="131.97" y="193.4" width="1.8" height="3.6" fill="#276527"/>
<rect x="133.54" y="192.8" width="1.8" height="1.0" fill="#276527"/>
<rect x="135.11" y="192.8" width="1.8" height="7.8" fill="#7f1049"/>
<rect x="136.69" y="195.4" width="1.8" height="5.2" fill="#276527"/>
<rect x="138.26" y="195.4" width="1.8" height="13.7" fill="#7f1049"/>
<rect x="139.83" y="209.1" width="1.8" height="4.9" fill="#7f1049"/>
<rect x="141.40" y="214.0" width="1.8" height="2.2" fill="#7f1049"/>
<rect x="142.98" y="209.9" width="1.8" height="6.3" fill="#276527"/>
<rect x="144.55" y="202.6" width="1.8" height="7.3" fill="#276527"/>
<rect x="146.12" y="202.6" width="1.8" height="2.6" fill="#7f1049"/>
<rect x="147.70" y="205.3" width="1.8" height="8.9" fill="#7f1049"/>
<rect x="149.27" y="207.3" width="1.8" height="6.8" fill="#276527"/>
<rect x="150.84" y="207.3" width="1.8" height="1.5" fill="#7f1049"/>
<rect x="152.42" y="208.9" width="1.8" height="6.9" fill="#7f1049"/>
<rect x="153.99" y="215.8" width="1.8" height="5.7" fill="#7f1049"/>
<rect x="155.56" y="221.4" width="1.8" height="2.0" fill="#7f1049"/>
<rect x="157.13" y="213.8" width="1.8" height="9.6" fill="#276527"/>
<rect x="158.71" y="213.8" width="1.8" height="1.6" fill="#7f1049"/>
<rect x="160.28" y="215.4" width="1.8" height="10.1" fill="#7f1049"/>
<rect x="161.85" y="225.5" width="1.8" height="1.8" fill="#7f1049"/>
<rect x="163.43" y="224.1" width="1.8" height="3.2" fill="#276527"/>
<rect x="165.00" y="222.5" width="1.8" height="1.6" fill="#276527"/>
<rect x="166.57" y="216.5" width="1.8" height="6.0" fill="#276527"/>
<rect x="168.15" y="215.3" width="1.8" height="1.2" fill="#276527"/>
<rect x="169.72" y="215.3" width="1.8" height="2.2" fill="#7f1049"/>
<rect x="171.29" y="215.1" width="1.8" height="2.3" fill="#276527"/>
<rect x="172.86" y="174.3" width="1.8" height="40.9" fill="#276527"/>
<rect x="174.44" y="166.7" width="1.8" height="7.6" fill="#276527"/>
<rect x="176.01" y="166.7" width="1.8" height="2.9" fill="#7f1049"/>
<rect x="177.58" y="166.7" width="1.8" height="2.9" fill="#276527"/>
<rect x="179.16" y="166.4" width="1.8" height="1.0" fill="#276527"/>
<rect x="180.73" y="155.8" width="1.8" height="10.5" fill="#276527"/>
<rect x="182.30" y="150.4" width="1.8" height="5.4" fill="#276527"/>
<rect x="183.88" y="141.2" width="1.8" height="9.3" fill="#276527"/>
<rect x="185.45" y="141.0" width="1.8" height="1.0" fill="#276527"/>
<rect x="187.02" y="131.2" width="1.8" height="9.9" fill="#276527"/>
<rect x="188.60" y="131.2" width="1.8" height="6.6" fill="#7f1049"/>
<rect x="190.17" y="137.8" width="1.8" height="8.1" fill="#7f1049"/>
<rect x="191.74" y="137.8" width="1.8" height="8.1" fill="#276527"/>
<rect x="193.31" y="137.8" width="1.8" height="7.6" fill="#7f1049"/>
<rect x="194.89" y="140.2" width="1.8" height="5.2" fill="#276527"/>
<rect x="196.46" y="140.1" width="1.8" height="1.0" fill="#276527"/>
<rect x="198.03" y="139.4" width="1.8" height="1.0" fill="#276527"/>
<rect x="199.61" y="139.4" width="1.8" height="1.0" fill="#7f1049"/>
<rect x="201.18" y="137.9" width="1.8" height="1.8" fill="#276527"/>
<rect x="202.75" y="133.4" width="1.8" height="4.4" fill="#276527"/>
<rect x="204.33" y="133.4" width="1.8" height="1.0" fill="#7f1049"/>
<rect x="205.90" y="133.4" width="1.8" height="1.0" fill="#276527"/>
<rect x="207.47" y="133.4" width="1.8" height="1.7" fill="#7f1049"/>
<rect x="209.04" y="121.4" width="1.8" height="13.6" fill="#276527"/>
<rect x="210.62" y="121.4" width="1.8" height="5.5" fill="#7f1049"/>
<rect x="212.19" y="126.9" width="1.8" height="1.0" fill="#7f1049"/>
<rect x="213.76" y="127.2" width="1.8" height="9.5" fill="#7f1049"/>
<rect x="215.34" y="131.7" width="1.8" height="5.0" fill="#276527"/>
<rect x="216.91" y="131.7" width="1.8" height="2.5" fill="#7f1049"/>
<rect x="218.48" y="130.6" width="1.8" height="3.6" fill="#276527"/>
<rect x="220.06" y="124.2" width="1.8" height="6.4" fill="#276527"/>
<rect x="221.63" y="118.7" width="1.8" height="5.5" fill="#276527"/>
<rect x="223.20" y="118.7" width="1.8" height="1.0" fill="#7f1049"/>
<rect x="224.77" y="113.2" width="1.8" height="5.7" fill="#276527"/>
<rect x="226.35" y="112.9" width="1.8" height="1.0" fill="#276527"/>
<rect x="227.92" y="112.9" width="1.8" height="1.0" fill="#7f1049"/>
<rect x="229.49" y="113.3" width="1.8" height="1.0" fill="#276527"/>
<rect x="231.07" y="113.3" width="1.8" height="1.0" fill="#7f1049"/>
<rect x="232.64" y="113.8" width="1.8" height="1.0" fill="#276527"/>
<rect x="234.21" y="113.8" width="1.8" height="1.7" fill="#7f1049"/>
<rect x="235.79" y="115.5" width="1.8" height="3.0" fill="#7f1049"/>
<rect x="237.36" y="114.2" width="1.8" height="4.3" fill="#276527"/>
<rect x="238.93" y="106.9" width="1.8" height="7.4" fill="#276527"/>
<rect x="240.50" y="106.9" width="1.8" height="6.8" fill="#7f1049"/>
<rect x="242.08" y="109.5" width="1.8" height="4.3" fill="#276527"/>
<rect x="243.65" y="109.5" width="1.8" height="8.5" fill="#7f1049"/>
<rect x="245.22" y="108.1" width="1.8" height="9.8" fill="#276527"/>
<rect x="246.80" y="104.0" width="1.8" height="4.2" fill="#276527"/>
<rect x="248.37" y="104.0" width="1.8" height="3.2" fill="#7f1049"/>
<rect x="249.94" y="107.1" width="1.8" height="4.6" fill="#7f1049"/>
<rect x="251.52" y="111.7" width="1.8" height="1.0" fill="#7f1049"/>
<rect x="253.09" y="106.5" width="1.8" height="5.5" fill="#276527"/>
<rect x="254.66" y="106.5" width="1.8" height="1.3" fill="#7f1049"/>
<rect x="256.23" y="107.9" width="1.8" height="7.4" fill="#7f1049"/>
<rect x="257.81" y="111.2" width="1.8" height="4.1" fill="#276527"/>
<rect x="259.38" y="111.2" width="1.8" height="4.7" fill="#7f1049"/>
<rect x="260.95" y="115.9" width="1.8" height="1.0" fill="#7f1049"/>
<rect x="262.53" y="116.1" width="1.8" height="1.0" fill="#7f1049"/>
<rect x="264.10" y="103.8" width="1.8" height="13.3" fill="#276527"/>
<rect x="265.67" y="103.8" width="1.8" height="6.7" fill="#7f1049"/>
<rect x="267.25" y="110.5" width="1.8" height="2.1" fill="#7f1049"/>
<rect x="268.82" y="112.6" width="1.8" height="6.6" fill="#7f1049"/>
<rect x="270.39" y="117.7" width="1.8" height="1.5" fill="#276527"/>
<rect x="271.96" y="117.7" width="1.8" height="5.5" fill="#7f1049"/>
<rect x="273.54" y="119.7" width="1.8" height="3.5" fill="#276527"/>
<rect x="275.11" y="119.7" width="1.8" height="1.1" fill="#7f1049"/>
<rect x="276.68" y="120.8" width="1.8" height="3.3" fill="#7f1049"/>
<rect x="278.26" y="124.2" width="1.8" height="7.3" fill="#7f1049"/>
<rect x="279.83" y="128.8" width="1.8" height="2.7" fill="#276527"/>
<rect x="281.40" y="128.8" width="1.8" height="1.3" fill="#7f1049"/>
<rect x="282.98" y="130.1" width="1.8" height="11.4" fill="#7f1049"/>
<rect x="284.55" y="138.8" width="1.8" height="2.6" fill="#276527"/>
<rect x="286.12" y="138.8" width="1.8" height="1.0" fill="#7f1049"/>
<rect x="287.69" y="138.9" width="1.8" height="6.1" fill="#7f1049"/>
<rect x="289.27" y="145.0" width="1.8" height="4.0" fill="#7f1049"/>
<rect x="290.84" y="147.9" width="1.8" height="1.1" fill="#276527"/>
<rect x="292.41" y="144.4" width="1.8" height="3.4" fill="#276527"/>
<rect x="293.99" y="140.2" width="1.8" height="4.3" fill="#276527"/>
<rect x="295.56" y="139.5" width="1.8" height="1.0" fill="#276527"/>
<rect x="297.13" y="135.1" width="1.8" height="4.4" fill="#276527"/>
<rect x="298.70" y="117.8" width="1.8" height="17.3" fill="#276527"/>
<rect x="300.28" y="117.8" width="1.8" height="1.0" fill="#7f1049"/>
<rect x="301.85" y="117.7" width="1.8" height="1.0" fill="#276527"/>
<rect x="303.42" y="117.7" width="1.8" height="2.5" fill="#7f1049"/>
<rect x="305.00" y="120.2" width="1.8" height="1.0" fill="#7f1049"/>
<rect x="306.57" y="116.5" width="1.8" height="4.4" fill="#276527"/>
<rect x="308.14" y="116.5" width="1.8" height="7.2" fill="#7f1049"/>
<rect x="309.72" y="113.3" width="1.8" height="10.4" fill="#276527"/>
<rect x="311.29" y="113.3" width="1.8" height="1.0" fill="#7f1049"/>
<rect x="312.86" y="112.9" width="1.8" height="1.0" fill="#276527"/>
<rect x="314.43" y="107.9" width="1.8" height="5.0" fill="#276527"/>
<rect x="316.01" y="107.9" width="1.8" height="3.7" fill="#7f1049"/>
<rect x="317.58" y="111.5" width="1.8" height="1.9" fill="#7f1049"/>
<rect x="319.15" y="113.4" width="1.8" height="6.7" fill="#7f1049"/>
<rect x="320.73" y="119.2" width="1.8" height="1.0" fill="#276527"/>
<rect x="322.30" y="119.2" width="1.8" height="12.4" fill="#7f1049"/>
<rect x="323.87" y="131.6" width="1.8" height="7.3" fill="#7f1049"/>
<rect x="325.45" y="133.4" width="1.8" height="5.4" fill="#276527"/>
<rect x="327.02" y="116.2" width="1.8" height="17.2" fill="#276527"/>
<rect x="328.59" y="110.7" width="1.8" height="5.5" fill="#276527"/>
<rect x="330.16" y="110.7" width="1.8" height="1.0" fill="#7f1049"/>
<rect x="331.74" y="106.8" width="1.8" height="4.4" fill="#276527"/>
<rect x="333.31" y="106.5" width="1.8" height="1.0" fill="#276527"/>
<rect x="334.88" y="106.5" width="1.8" height="3.4" fill="#7f1049"/>
<rect x="336.46" y="109.9" width="1.8" height="1.0" fill="#7f1049"/>
<rect x="338.03" y="110.6" width="1.8" height="3.6" fill="#7f1049"/>
<rect x="339.60" y="114.2" width="1.8" height="2.8" fill="#7f1049"/>
<rect x="341.18" y="117.0" width="1.8" height="6.1" fill="#7f1049"/>
<rect x="342.75" y="119.2" width="1.8" height="3.9" fill="#276527"/>
<rect x="344.32" y="119.2" width="1.8" height="4.3" fill="#7f1049"/>
<rect x="345.89" y="123.5" width="1.8" height="4.5" fill="#7f1049"/>
<rect x="347.47" y="128.0" width="1.8" height="14.0" fill="#7f1049"/>
<rect x="349.04" y="135.8" width="1.8" height="6.2" fill="#276527"/>
<rect x="350.61" y="130.3" width="1.8" height="5.5" fill="#276527"/>
<rect x="352.19" y="130.3" width="1.8" height="3.2" fill="#7f1049"/>
<rect x="353.76" y="133.4" width="1.8" height="1.0" fill="#7f1049"/>
<rect x="355.33" y="134.2" width="1.8" height="7.9" fill="#7f1049"/>
<rect x="356.91" y="142.1" width="1.8" height="1.0" fill="#7f1049"/>
<rect x="358.48" y="142.9" width="1.8" height="9.5" fill="#7f1049"/>
<rect x="360.05" y="141.5" width="1.8" height="10.9" fill="#276527"/>
<rect x="361.62" y="125.4" width="1.8" height="16.1" fill="#276527"/>
<rect x="363.20" y="116.8" width="1.8" height="8.6" fill="#276527"/>
<rect x="364.77" y="116.5" width="1.8" height="1.0" fill="#276527"/>
<rect x="366.34" y="115.5" width="1.8" height="1.0" fill="#276527"/>
<rect x="367.92" y="115.5" width="1.8" height="1.3" fill="#7f1049"/>
<rect x="369.49" y="116.8" width="1.8" height="1.5" fill="#7f1049"/>
<rect x="371.06" y="118.4" width="1.8" height="2.6" fill="#7f1049"/>
<rect x="372.64" y="120.3" width="1.8" height="1.0" fill="#276527"/>
<rect x="374.21" y="120.3" width="1.8" height="6.3" fill="#7f1049"/>
<rect x="375.78" y="124.7" width="1.8" height="1.8" fill="#276527"/>
<rect x="377.35" y="117.2" width="1.8" height="7.5" fill="#276527"/>
<rect x="378.93" y="117.2" width="1.8" height="4.0" fill="#7f1049"/>
<rect x="380.50" y="115.3" width="1.8" height="5.9" fill="#276527"/>
<rect x="382.07" y="112.4" width="1.8" height="2.9" fill="#276527"/>
<rect x="383.65" y="110.9" width="1.8" height="1.5" fill="#276527"/>
<rect x="385.22" y="104.2" width="1.8" height="6.6" fill="#276527"/>
<rect x="386.79" y="104.2" width="1.8" height="3.8" fill="#7f1049"/>
<rect x="388.37" y="107.4" width="1.8" height="1.0" fill="#276527"/>
<rect x="389.94" y="107.4" width="1.8" height="1.7" fill="#7f1049"/>
<rect x="391.51" y="108.9" width="1.8" height="1.0" fill="#276527"/>
<rect x="393.08" y="108.9" width="1.8" height="4.3" fill="#7f1049"/>
<rect x="394.66" y="111.7" width="1.8" height="1.5" fill="#276527"/>
<rect x="396.23" y="105.6" width="1.8" height="6.1" fill="#276527"/>
<rect x="397.80" y="103.3" width="1.8" height="2.3" fill="#276527"/>
<rect x="399.38" y="100.6" width="1.8" height="2.8" fill="#276527"/>
<rect x="400.95" y="97.0" width="1.8" height="3.5" fill="#276527"/>
<rect x="402.52" y="97.0" width="1.8" height="2.0" fill="#7f1049"/>
<rect x="404.10" y="99.0" width="1.8" height="1.0" fill="#7f1049"/>
<rect x="405.67" y="97.7" width="1.8" height="2.0" fill="#276527"/>
<rect x="407.24" y="94.8" width="1.8" height="2.9" fill="#276527"/>
<rect x="408.81" y="94.8" width="1.8" height="3.9" fill="#7f1049"/>
<rect x="410.39" y="97.4" width="1.8" height="1.3" fill="#276527"/>
<rect x="411.96" y="93.8" width="1.8" height="3.7" fill="#276527"/>
<rect x="413.53" y="93.8" width="1.8" height="1.0" fill="#7f1049"/>
<rect x="415.11" y="94.2" width="1.8" height="2.1" fill="#7f1049"/>
<rect x="416.68" y="96.4" width="1.8" height="1.1" fill="#7f1049"/>
<rect x="418.25" y="97.4" width="1.8" height="1.0" fill="#276527"/>
<rect x="419.83" y="97.4" width="1.8" height="1.6" fill="#7f1049"/>
<rect x="421.40" y="97.7" width="1.8" height="1.3" fill="#276527"/>
<rect x="422.97" y="89.3" width="1.8" height="8.5" fill="#276527"/>
<rect x="424.54" y="88.4" width="1.8" height="1.0" fill="#276527"/>
<rect x="426.12" y="83.4" width="1.8" height="5.0" fill="#276527"/>
<rect x="427.69" y="73.5" width="1.8" height="9.9" fill="#276527"/>
<rect x="429.26" y="73.5" width="1.8" height="1.5" fill="#7f1049"/>
<rect x="430.84" y="75.0" width="1.8" height="1.0" fill="#7f1049"/>
<rect x="432.41" y="76.0" width="1.8" height="1.7" fill="#7f1049"/>
<rect x="433.98" y="72.8" width="1.8" height="4.8" fill="#276527"/>
<rect x="435.56" y="53.6" width="1.8" height="19.1" fill="#276527"/>
<rect x="437.13" y="50.5" width="1.8" height="3.2" fill="#276527"/>
<rect x="438.70" y="50.5" width="1.8" height="16.4" fill="#7f1049"/>
<rect x="440.27" y="66.9" width="1.8" height="6.2" fill="#7f1049"/>
<rect x="441.85" y="73.1" width="1.8" height="1.0" fill="#276527"/>
<rect x="443.42" y="73.1" width="1.8" height="2.5" fill="#7f1049"/>
<rect x="444.99" y="75.6" width="1.8" height="9.1" fill="#7f1049"/>
<rect x="446.57" y="84.7" width="1.8" height="14.7" fill="#7f1049"/>
<rect x="448.14" y="99.4" width="1.8" height="12.6" fill="#7f1049"/>
<rect x="449.71" y="109.7" width="1.8" height="2.3" fill="#276527"/>
<rect x="451.29" y="105.1" width="1.8" height="4.6" fill="#276527"/>
<rect x="452.86" y="99.5" width="1.8" height="5.6" fill="#276527"/>
<rect x="454.43" y="94.5" width="1.8" height="5.0" fill="#276527"/>
<rect x="456.00" y="90.6" width="1.8" height="3.9" fill="#276527"/>
<rect x="457.58" y="90.6" width="1.8" height="11.4" fill="#7f1049"/>
<rect x="459.15" y="102.0" width="1.8" height="1.3" fill="#7f1049"/>
<rect x="460.72" y="103.3" width="1.8" height="3.0" fill="#7f1049"/>
<rect x="462.30" y="106.2" width="1.8" height="1.3" fill="#7f1049"/>
<rect x="463.87" y="101.6" width="1.8" height="5.9" fill="#276527"/>
<rect x="465.44" y="101.6" width="1.8" height="4.3" fill="#7f1049"/>
<rect x="467.02" y="100.3" width="1.8" height="5.6" fill="#276527"/>
<rect x="468.59" y="95.1" width="1.8" height="5.1" fill="#276527"/>
<rect x="470.16" y="92.0" width="1.8" height="3.1" fill="#276527"/>
<rect x="471.73" y="88.7" width="1.8" height="3.3" fill="#276527"/>
<rect x="473.31" y="75.8" width="1.8" height="13.0" fill="#276527"/>
<rect x="474.88" y="75.8" width="1.8" height="8.6" fill="#7f1049"/>
<rect x="476.45" y="84.3" width="1.8" height="15.8" fill="#7f1049"/>
<rect x="478.03" y="100.1" width="1.8" height="7.1" fill="#7f1049"/>
<rect x="479.60" y="107.2" width="1.8" height="6.3" fill="#7f1049"/>
<rect x="481.17" y="113.5" width="1.8" height="1.0" fill="#7f1049"/>
<rect x="482.75" y="102.3" width="1.8" height="11.7" fill="#276527"/>
<rect x="484.32" y="98.7" width="1.8" height="3.6" fill="#276527"/>
<rect x="485.89" y="97.9" width="1.8" height="1.0" fill="#276527"/>
<rect x="487.46" y="97.9" width="1.8" height="6.2" fill="#7f1049"/>
<rect x="489.04" y="104.1" width="1.8" height="1.0" fill="#7f1049"/>
<rect x="490.61" y="97.6" width="1.8" height="6.9" fill="#276527"/>
<rect x="492.18" y="97.6" width="1.8" height="2.8" fill="#7f1049"/>
<rect x="493.76" y="100.4" width="1.8" height="4.4" fill="#7f1049"/>
<rect x="495.33" y="104.8" width="1.8" height="1.1" fill="#7f1049"/>
<rect x="496.90" y="97.2" width="1.8" height="8.7" fill="#276527"/>
<rect x="498.48" y="97.2" width="1.8" height="13.9" fill="#7f1049"/>
<rect x="500.05" y="104.7" width="1.8" height="6.4" fill="#276527"/>
<rect x="501.62" y="104.7" width="1.8" height="3.4" fill="#7f1049"/>
<rect x="503.19" y="104.0" width="1.8" height="4.1" fill="#276527"/>
<rect x="504.77" y="101.6" width="1.8" height="2.4" fill="#276527"/>
<rect x="506.34" y="101.6" width="1.8" height="3.4" fill="#7f1049"/>
<rect x="507.91" y="105.0" width="1.8" height="1.0" fill="#7f1049"/>
<rect x="509.49" y="105.6" width="1.8" height="5.5" fill="#7f1049"/>
<rect x="511.06" y="110.2" width="1.8" height="1.0" fill="#276527"/>
<rect x="512.63" y="105.1" width="1.8" height="5.1" fill="#276527"/>
<rect x="514.21" y="104.8" width="1.8" height="1.0" fill="#276527"/>
<rect x="515.78" y="104.8" width="1.8" height="2.3" fill="#7f1049"/>
<rect x="517.35" y="104.6" width="1.8" height="2.5" fill="#276527"/>
<rect x="518.92" y="104.6" width="1.8" height="5.4" fill="#7f1049"/>
<rect x="520.50" y="108.9" width="1.8" height="1.1" fill="#276527"/>
<rect x="522.07" y="108.9" width="1.8" height="1.6" fill="#7f1049"/>
<rect x="523.64" y="110.5" width="1.8" height="1.0" fill="#7f1049"/>
<rect x="525.22" y="111.2" width="1.8" height="1.0" fill="#7f1049"/>
<rect x="526.79" y="105.6" width="1.8" height="6.1" fill="#276527"/>
<rect x="528.36" y="102.8" width="1.8" height="2.7" fill="#276527"/>
<rect x="529.94" y="102.8" width="1.8" height="2.8" fill="#7f1049"/>
<rect x="531.51" y="105.6" width="1.8" height="3.7" fill="#7f1049"/>
<rect x="533.08" y="136.9" width="1.8" height="1.0" fill="#7f1049"/>
<rect x="534.65" y="136.9" width="1.8" height="13.1" fill="#7f1049"/>
<rect x="536.23" y="150.1" width="1.8" height="3.7" fill="#7f1049"/>
<rect x="537.80" y="153.8" width="1.8" height="9.7" fill="#7f1049"/>
<rect x="539.37" y="163.5" width="1.8" height="7.0" fill="#7f1049"/>
<rect x="540.95" y="167.4" width="1.8" height="3.1" fill="#276527"/>
<rect x="542.52" y="167.1" width="1.8" height="1.0" fill="#276527"/>
<rect x="544.09" y="162.5" width="1.8" height="4.5" fill="#276527"/>
<rect x="545.67" y="158.4" width="1.8" height="4.2" fill="#276527"/>
<rect x="547.24" y="153.6" width="1.8" height="4.7" fill="#276527"/>
<rect x="548.81" y="146.4" width="1.8" height="7.2" fill="#276527"/>
<rect x="550.38" y="146.4" width="1.8" height="8.7" fill="#7f1049"/>
<rect x="551.96" y="152.3" width="1.8" height="2.9" fill="#276527"/>
<rect x="553.53" y="152.3" width="1.8" height="5.5" fill="#7f1049"/>
<rect x="555.10" y="157.7" width="1.8" height="15.3" fill="#7f1049"/>
<rect x="556.68" y="165.2" width="1.8" height="7.8" fill="#276527"/>
<rect x="558.25" y="163.5" width="1.8" height="1.7" fill="#276527"/>
<rect x="559.82" y="160.6" width="1.8" height="2.8" fill="#276527"/>
<rect x="561.40" y="157.3" width="1.8" height="3.3" fill="#276527"/>
<rect x="562.97" y="155.4" width="1.8" height="1.9" fill="#276527"/>
<rect x="564.54" y="153.4" width="1.8" height="2.0" fill="#276527"/>
<rect x="566.11" y="153.4" width="1.8" height="4.5" fill="#7f1049"/>
<rect x="567.69" y="156.6" width="1.8" height="1.3" fill="#276527"/>
<rect x="569.26" y="156.6" width="1.8" height="1.2" fill="#7f1049"/>
<rect x="570.83" y="157.8" width="1.8" height="1.0" fill="#7f1049"/>
<rect x="572.41" y="157.9" width="1.8" height="1.3" fill="#7f1049"/>
<rect x="573.98" y="159.1" width="1.8" height="1.4" fill="#7f1049"/>
<rect x="575.55" y="159.8" width="1.8" height="1.0" fill="#276527"/>
<rect x="577.13" y="159.8" width="1.8" height="6.0" fill="#7f1049"/>
<rect x="578.70" y="164.6" width="1.8" height="1.2" fill="#276527"/>
<rect x="580.27" y="164.6" width="1.8" height="2.7" fill="#7f1049"/>
<rect x="581.84" y="165.8" width="1.8" height="1.4" fill="#276527"/>
<rect x="583.42" y="163.3" width="1.8" height="2.5" fill="#276527"/>
<rect x="584.99" y="163.3" width="1.8" height="17.8" fill="#7f1049"/>
<rect x="586.56" y="181.1" width="1.8" height="32.2" fill="#7f1049"/>
<rect x="588.14" y="213.4" width="1.8" height="6.9" fill="#7f1049"/>
<rect x="589.71" y="220.3" width="1.8" height="19.2" fill="#7f1049"/>
<rect x="591.28" y="239.4" width="1.8" height="9.1" fill="#7f1049"/>
<rect x="592.86" y="248.5" width="1.8" height="10.1" fill="#7f1049"/>
<rect x="594.43" y="258.4" width="1.8" height="1.0" fill="#276527"/>
<rect x="596.00" y="231.5" width="1.8" height="26.9" fill="#276527"/>
<rect x="597.57" y="231.5" width="1.8" height="19.4" fill="#7f1049"/>
<rect x="599.15" y="250.9" width="1.8" height="17.9" fill="#7f1049"/>
<rect x="600.72" y="266.3" width="1.8" height="2.5" fill="#276527"/>
<rect x="602.29" y="266.3" width="1.8" height="12.8" fill="#7f1049"/>
<rect x="603.87" y="279.1" width="1.8" height="4.0" fill="#7f1049"/>
<rect x="605.44" y="279.2" width="1.8" height="3.9" fill="#276527"/>
<rect x="607.01" y="276.1" width="1.8" height="3.1" fill="#276527"/>
<rect x="608.59" y="275.1" width="1.8" height="1.0" fill="#276527"/>
<rect x="610.16" y="274.7" width="1.8" height="1.0" fill="#276527"/>
<rect x="611.73" y="274.7" width="1.8" height="1.0" fill="#7f1049"/>
<rect x="613.30" y="275.0" width="1.8" height="4.0" fill="#7f1049"/>
<rect x="614.88" y="276.0" width="1.8" height="3.0" fill="#276527"/>
<rect x="616.45" y="270.7" width="1.8" height="5.3" fill="#276527"/>
<rect x="618.02" y="266.3" width="1.8" height="4.3" fill="#276527"/>
<rect x="619.60" y="260.3" width="1.8" height="6.0" fill="#276527"/>
<rect x="621.17" y="260.3" width="1.8" height="2.9" fill="#7f1049"/>
<rect x="622.74" y="260.5" width="1.8" height="2.7" fill="#276527"/>
<rect x="624.32" y="251.0" width="1.8" height="9.5" fill="#276527"/>
<rect x="625.89" y="251.0" width="1.8" height="4.0" fill="#7f1049"/>
<rect x="627.46" y="255.0" width="1.8" height="11.0" fill="#7f1049"/>
<rect x="629.03" y="266.0" width="1.8" height="6.7" fill="#7f1049"/>
<rect x="630.61" y="272.8" width="1.8" height="21.9" fill="#7f1049"/>
<rect x="632.18" y="294.7" width="1.8" height="1.0" fill="#7f1049"/>
<rect x="633.75" y="252.0" width="1.8" height="42.8" fill="#276527"/>
<rect x="635.33" y="219.3" width="1.8" height="32.7" fill="#276527"/>
<rect x="636.90" y="219.3" width="1.8" height="6.8" fill="#7f1049"/>
<rect x="638.47" y="210.8" width="1.8" height="15.2" fill="#276527"/>
<rect x="640.05" y="202.2" width="1.8" height="8.7" fill="#276527"/>
<rect x="641.62" y="185.4" width="1.8" height="16.7" fill="#276527"/>
<rect x="643.19" y="185.4" width="1.8" height="1.0" fill="#7f1049"/>
<rect x="644.76" y="182.8" width="1.8" height="3.1" fill="#276527"/>
<rect x="646.34" y="182.8" width="1.8" height="5.5" fill="#7f1049"/>
<rect x="647.91" y="188.3" width="1.8" height="3.7" fill="#7f1049"/>
<rect x="649.48" y="192.0" width="1.8" height="1.0" fill="#7f1049"/>
<rect x="651.06" y="187.9" width="1.8" height="4.6" fill="#276527"/>
<rect x="652.63" y="187.9" width="1.8" height="1.4" fill="#7f1049"/>
<rect x="654.20" y="189.3" width="1.8" height="12.4" fill="#7f1049"/>
<rect x="655.78" y="201.7" width="1.8" height="1.0" fill="#7f1049"/>
<rect x="657.35" y="202.1" width="1.8" height="1.0" fill="#7f1049"/>
<rect x="658.92" y="203.0" width="1.8" height="6.0" fill="#7f1049"/>
<rect x="660.49" y="209.0" width="1.8" height="5.0" fill="#7f1049"/>
<rect x="662.07" y="214.1" width="1.8" height="9.0" fill="#7f1049"/>
<rect x="663.64" y="223.1" width="1.8" height="5.4" fill="#7f1049"/>
<rect x="665.21" y="218.9" width="1.8" height="9.6" fill="#276527"/>
<rect x="666.79" y="218.9" width="1.8" height="14.7" fill="#7f1049"/>
<rect x="668.36" y="233.5" width="1.8" height="17.1" fill="#7f1049"/>
<rect x="669.93" y="241.0" width="1.8" height="9.7" fill="#276527"/>
<rect x="671.51" y="237.4" width="1.8" height="3.6" fill="#276527"/>
<rect x="673.08" y="228.4" width="1.8" height="8.9" fill="#276527"/>
<rect x="674.65" y="221.7" width="1.8" height="6.7" fill="#276527"/>
<rect x="676.22" y="217.1" width="1.8" height="4.6" fill="#276527"/>
<rect x="677.80" y="217.1" width="1.8" height="2.2" fill="#7f1049"/>
<rect x="679.37" y="218.7" width="1.8" height="1.0" fill="#276527"/>
<rect x="680.94" y="218.7" width="1.8" height="1.0" fill="#7f1049"/>
<rect x="682.52" y="219.5" width="1.8" height="7.5" fill="#7f1049"/>
<rect x="684.09" y="226.4" width="1.8" height="1.0" fill="#276527"/>
<rect x="685.66" y="219.1" width="1.8" height="7.2" fill="#276527"/>
<rect x="687.24" y="219.1" width="1.8" height="2.1" fill="#7f1049"/>
<rect x="688.81" y="220.0" width="1.8" height="1.2" fill="#276527"/>
<rect x="690.38" y="216.8" width="1.8" height="3.2" fill="#276527"/>
<rect x="691.95" y="216.8" width="1.8" height="1.7" fill="#7f1049"/>
<rect x="693.53" y="216.1" width="1.8" height="2.3" fill="#276527"/>
<rect x="695.10" y="214.3" width="1.8" height="1.8" fill="#276527"/>
<rect x="696.67" y="211.1" width="1.8" height="3.2" fill="#276527"/>
<rect x="698.25" y="205.4" width="1.8" height="5.7" fill="#276527"/>
<rect x="699.82" y="205.4" width="1.8" height="1.0" fill="#7f1049"/>
<rect x="701.39" y="204.2" width="1.8" height="2.3" fill="#276527"/>
<rect x="702.97" y="162.4" width="1.8" height="41.8" fill="#276527"/>
<rect x="704.54" y="162.4" width="1.8" height="9.3" fill="#7f1049"/>
<rect x="706.11" y="171.7" width="1.8" height="14.6" fill="#7f1049"/>
<rect x="707.68" y="179.8" width="1.8" height="6.5" fill="#276527"/>
<rect x="709.26" y="165.5" width="1.8" height="14.3" fill="#276527"/>
<rect x="710.83" y="164.5" width="1.8" height="1.0" fill="#276527"/>
<rect x="712.40" y="163.2" width="1.8" height="1.3" fill="#276527"/>
<rect x="713.98" y="163.2" width="1.8" height="4.8" fill="#7f1049"/>
<text x="487" y="105.3" font-size="9" fill="#2a2a2a" stroke="#2a2a2a" stroke-width="0.15">P (1.074)</text>
<!-- callouts -->
<path d="M513,46.8 H614.7 Q620.7,46.8 620.7,52.8 V89.2 L627.4,98.2 L614.5,95.1 H513 Q507,95.1 507,89.1 V52.8 Q507,46.8 513,46.8 Z" fill="#74b4f8" stroke="#62a6f0" stroke-width="0.8"/>
<g font-size="10.7" fill="#fff" stroke="#fff" stroke-width="0.25">
<text x="515.6" y="63.5" textLength="77.8" lengthAdjust="spacingAndGlyphs">UK headline CPI</text>
<text x="515.6" y="74.3" textLength="76.4" lengthAdjust="spacingAndGlyphs">beat estimates,</text>
<text x="515.6" y="84.9" textLength="96.4" lengthAdjust="spacingAndGlyphs">but core CPI missed</text>
</g>
<path d="M391.4,238 H557 Q563,238 563,244 V256.3 L574.8,246.8 L563,269 V281 Q563,287 557,287 H391.4 Q385.4,287 385.4,281 V244 Q385.4,238 391.4,238 Z" fill="#74b4f8" stroke="#62a6f0" stroke-width="0.8"/>
<g font-size="10.6" fill="#fff" stroke="#fff" stroke-width="0.25">
<text x="394" y="254.8" textLength="160.5" lengthAdjust="spacingAndGlyphs">Discussed bullish GBP/CHF setup</text>
<text x="394" y="265.9" textLength="123.3" lengthAdjust="spacingAndGlyphs">if UK CPI comes in strong</text>
<text x="394" y="276.9" textLength="119.8" lengthAdjust="spacingAndGlyphs">in a risk-on environment</text>
</g>
<!-- title -->
<text x="13.5" y="16.6" font-size="11.2" fill="#262626" stroke="#262626" stroke-width="0.3" textLength="95.5" lengthAdjust="spacing">GBP/CHF: 1-hour</text>
<!-- axes -->
<line x1="717.5" y1="3.5" x2="717.5" y2="365.5" stroke="#8a8a8a" stroke-width="1"/>
<line x1="8" y1="340.8" x2="772" y2="340.8" stroke="#cfcfcf" stroke-width="1.5"/>
<rect x="720.5" y="6.5" width="47.5" height="19.5" rx="4" fill="#fff" stroke="#f0f0f0"/>
<text x="727.9" y="19" font-size="9" fill="#222" stroke="#222" stroke-width="0.3" textLength="16.4" lengthAdjust="spacingAndGlyphs">CHF</text>
<g font-size="10.4" fill="#6b6b6b" stroke="#6b6b6b" stroke-width="0.25">
<text x="726" y="40.1">1.08000</text>
<text x="726" y="105.7">1.07500</text>
<text x="726" y="170.6">1.07000</text>
<text x="726" y="236.8">1.06500</text>
<text x="726" y="302.4">1.06000</text>
</g>
<rect x="718.2" y="173.8" width="50.2" height="15.2" rx="2" fill="#fff" stroke="#f27bb5" stroke-width="1"/>
<text x="726" y="185.6" font-size="10.2" fill="#e8288a">1.06892</text>
<rect x="717.9" y="269.1" width="50.8" height="15.7" rx="2" fill="#3bb82c"/>
<text x="726" y="280.4" font-size="10.2" fill="#fff">1.06169</text>
<!-- time axis -->
<g font-size="11" fill="#555" stroke="#555" stroke-width="0.15">
<text x="10.3" y="357">29</text>
<text x="106" y="357">2026</text>
<text x="164.3" y="357">5</text>
<text x="239.3" y="357">7</text>
<text x="315" y="357">9</text>
<text x="388.6" y="357">13</text>
<text x="463.8" y="357">15</text>
</g>
<line x1="580" y1="338" x2="580" y2="341" stroke="#999"/>
<line x1="625.6" y1="338" x2="625.6" y2="341" stroke="#999"/>
<path d="M517.4,340.6 H688.5 V359.4 Q688.5,361.4 686.5,361.4 H519.4 Q517.4,361.4 517.4,359.4 Z" fill="#0c0c0c"/>
<g font-size="10" font-weight="bold" fill="#fff">
<text x="525.6" y="356.3" textLength="34.7" lengthAdjust="spacingAndGlyphs">Mon 19</text>
<text x="570.5" y="356.3" textLength="71.8" lengthAdjust="spacingAndGlyphs">Wed 21 Jan '26</text>
<text x="653" y="356.3" textLength="27.3" lengthAdjust="spacingAndGlyphs">03:00</text>
</g>
<!-- logo -->
<g fill="#131722">
<path d="M9.3,383.1 H19.4 V394.7 H14 V387.1 H9.3 Z"/>
<circle cx="23" cy="385.1" r="2.1"/>
<path d="M27,383.1 H32.8 L27.4,394.7 H22.6 Z"/>
</g>
<text x="39.3" y="394.6" font-size="15.8" font-weight="bold" fill="#131722" textLength="93.6" lengthAdjust="spacingAndGlyphs">TradingView</text>
</svg>
</body></html>
